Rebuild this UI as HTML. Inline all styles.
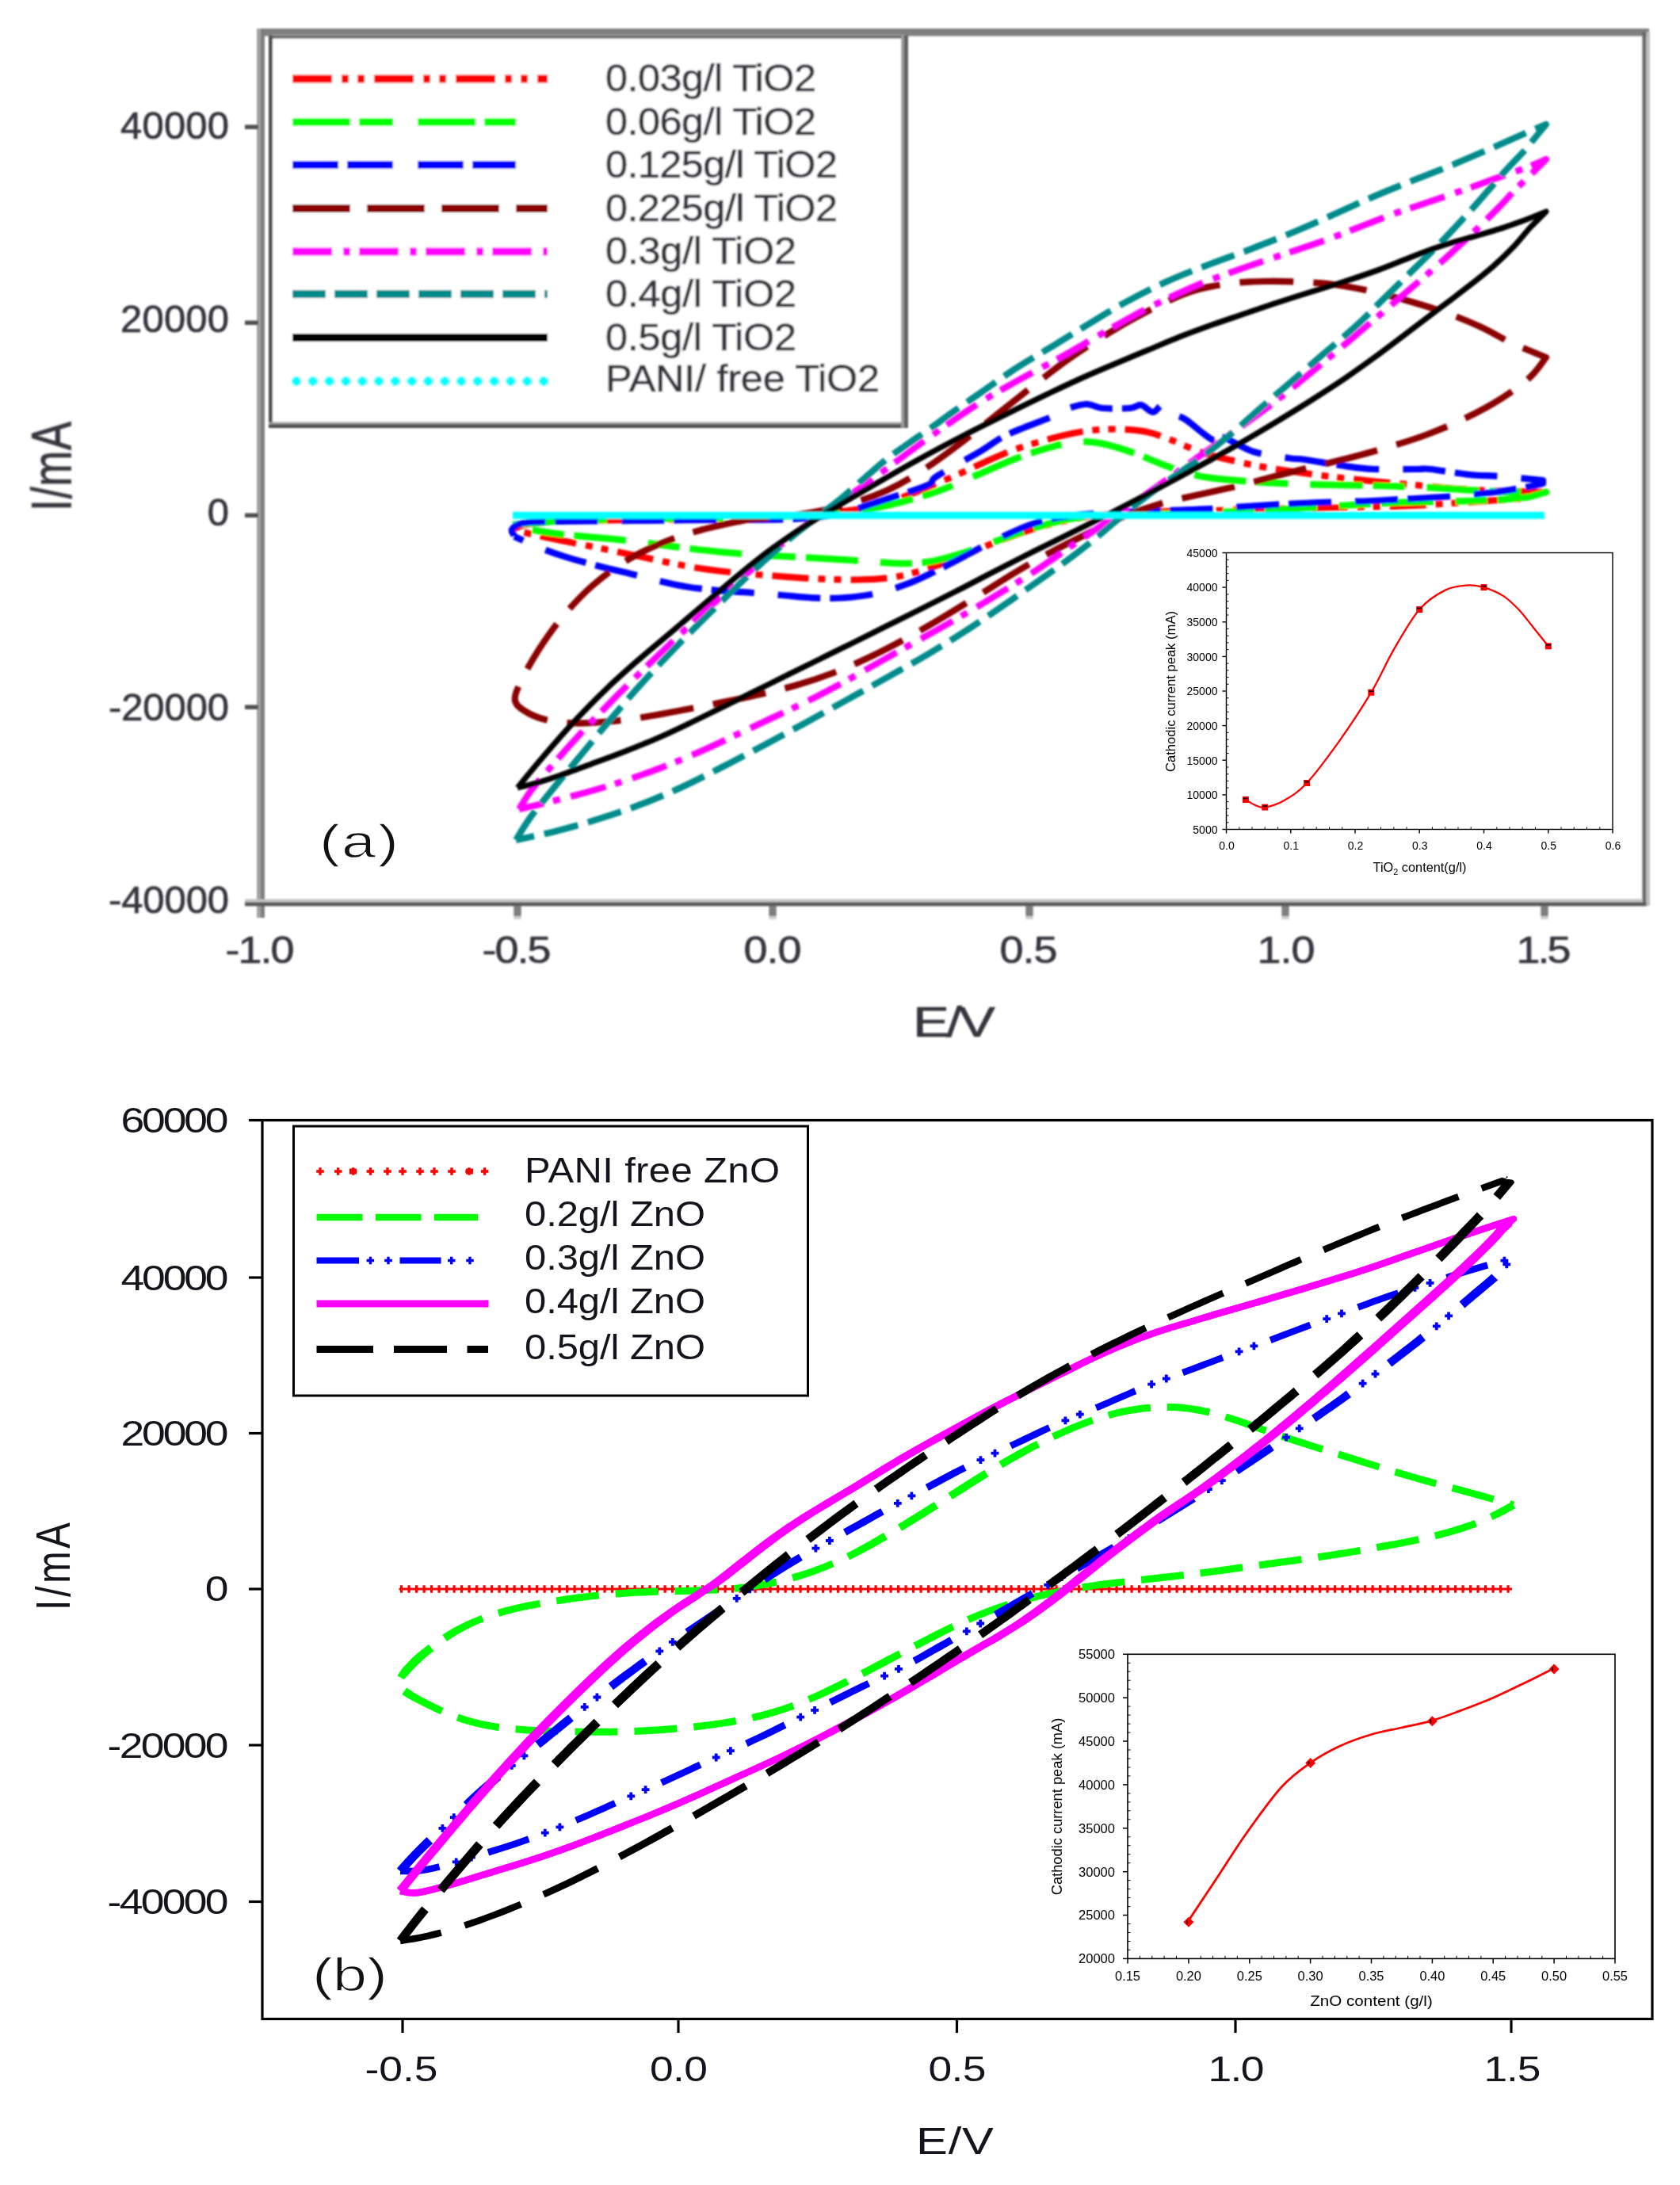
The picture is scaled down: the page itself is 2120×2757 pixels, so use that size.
<!DOCTYPE html>
<html lang="en"><head><meta charset="utf-8"><title>Cyclic voltammograms</title>
<style>html,body{margin:0;padding:0;background:#fff}svg{display:block}text{white-space:pre}</style></head>
<body>
<svg width="2120" height="2757" viewBox="0 0 2120 2757">
<defs><filter id="bl" x="-2%" y="-2%" width="104%" height="104%"><feGaussianBlur stdDeviation="1.05"/></filter></defs>
<rect width="2120" height="2757" fill="#fff"/>
<g id="chartA" filter="url(#bl)">
<rect x="324" y="36" width="1757" height="9.5" fill="#808080"/>
<rect x="324" y="36" width="5" height="1122" fill="#a2a2a2"/>
<rect x="329" y="36" width="5" height="1122" fill="#7e7e7e"/>
<rect x="2072.5" y="40" width="5" height="1103" fill="#666666"/>
<rect x="2077.5" y="40" width="4.5" height="1103" fill="#bdbdbd"/>
<rect x="309" y="1134.5" width="1764" height="4.5" fill="#c2c2c2"/>
<rect x="309" y="1138.5" width="1768.5" height="4.8" fill="#565656"/>
<rect x="309" y="157.5" width="17" height="5.5" fill="#505050"/>
<rect x="309" y="404.5" width="17" height="5.5" fill="#505050"/>
<rect x="309" y="647.5" width="17" height="5.5" fill="#505050"/>
<rect x="309" y="889.5" width="17" height="5.5" fill="#505050"/>
<rect x="648.3" y="1143" width="9.4" height="13" fill="#7e7e7e"/>
<rect x="648.3" y="1156" width="9.4" height="4" fill="#cfcfcf"/>
<rect x="970.3" y="1143" width="9.4" height="13" fill="#7e7e7e"/>
<rect x="970.3" y="1156" width="9.4" height="4" fill="#cfcfcf"/>
<rect x="1294.3" y="1143" width="9.4" height="13" fill="#7e7e7e"/>
<rect x="1294.3" y="1156" width="9.4" height="4" fill="#cfcfcf"/>
<rect x="1617.3" y="1143" width="9.4" height="13" fill="#7e7e7e"/>
<rect x="1617.3" y="1156" width="9.4" height="4" fill="#cfcfcf"/>
<rect x="1944.3" y="1143" width="9.4" height="13" fill="#7e7e7e"/>
<rect x="1944.3" y="1156" width="9.4" height="4" fill="#cfcfcf"/>
<text transform="translate(289,175) scale(1.020,1.000)" font-family="'Liberation Sans', sans-serif" font-size="48" fill="#34343c" text-anchor="end" textLength="134.3" lengthAdjust="spacing" stroke="#34343c" stroke-width="0.7">40000</text>
<text transform="translate(289,419) scale(1.020,1.000)" font-family="'Liberation Sans', sans-serif" font-size="48" fill="#34343c" text-anchor="end" textLength="134.3" lengthAdjust="spacing" stroke="#34343c" stroke-width="0.7">20000</text>
<text transform="translate(289,663) scale(1.020,1.000)" font-family="'Liberation Sans', sans-serif" font-size="48" fill="#34343c" text-anchor="end" textLength="26.5" lengthAdjust="spacing" stroke="#34343c" stroke-width="0.7">0</text>
<text transform="translate(289,908.5) scale(1.020,1.000)" font-family="'Liberation Sans', sans-serif" font-size="48" fill="#34343c" text-anchor="end" textLength="149" lengthAdjust="spacing" stroke="#34343c" stroke-width="0.7">-20000</text>
<text transform="translate(289,1151.5) scale(1.020,1.000)" font-family="'Liberation Sans', sans-serif" font-size="48" fill="#34343c" text-anchor="end" textLength="149" lengthAdjust="spacing" stroke="#34343c" stroke-width="0.7">-40000</text>
<text transform="translate(328,1214.5) scale(1.100,1.000)" font-family="'Liberation Sans', sans-serif" font-size="49" fill="#34343c" text-anchor="middle" textLength="79.1" lengthAdjust="spacing" stroke="#34343c" stroke-width="0.7">-1.0</text>
<text transform="translate(652,1214.5) scale(1.100,1.000)" font-family="'Liberation Sans', sans-serif" font-size="49" fill="#34343c" text-anchor="middle" textLength="79.1" lengthAdjust="spacing" stroke="#34343c" stroke-width="0.7">-0.5</text>
<text transform="translate(975,1214.5) scale(1.100,1.000)" font-family="'Liberation Sans', sans-serif" font-size="49" fill="#34343c" text-anchor="middle" textLength="66.4" lengthAdjust="spacing" stroke="#34343c" stroke-width="0.7">0.0</text>
<text transform="translate(1298,1214.5) scale(1.100,1.000)" font-family="'Liberation Sans', sans-serif" font-size="49" fill="#34343c" text-anchor="middle" textLength="66.4" lengthAdjust="spacing" stroke="#34343c" stroke-width="0.7">0.5</text>
<text transform="translate(1623,1214.5) scale(1.100,1.000)" font-family="'Liberation Sans', sans-serif" font-size="49" fill="#34343c" text-anchor="middle" textLength="66.4" lengthAdjust="spacing" stroke="#34343c" stroke-width="0.7">1.0</text>
<text transform="translate(1948,1214.5) scale(1.100,1.000)" font-family="'Liberation Sans', sans-serif" font-size="49" fill="#34343c" text-anchor="middle" textLength="62.7" lengthAdjust="spacing" stroke="#34343c" stroke-width="0.7">1.5</text>
<text transform="translate(1204,1307.5) scale(1.280,1.000)" font-family="'Liberation Sans', sans-serif" font-size="54" fill="#34343c" text-anchor="middle" textLength="81.2" lengthAdjust="spacing" stroke="#34343c" stroke-width="0.6">E/V</text>
<text transform="translate(89.5,588.5) rotate(-90) scale(1.000,1.300)" font-family="'Liberation Sans', sans-serif" font-size="54" fill="#34343c" text-anchor="middle" textLength="113" lengthAdjust="spacing" stroke="#34343c" stroke-width="0.6">I/mA</text>
<rect x="339" y="44" width="805" height="493" fill="#fff"/>
<rect x="339" y="44.5" width="805" height="4" fill="#606060"/>
<rect x="339" y="44.5" width="5" height="493" fill="#505050"/>
<rect x="339" y="532.5" width="807" height="3.5" fill="#a0a0a0"/>
<rect x="339" y="535.5" width="807" height="4.5" fill="#4c4c4c"/>
<rect x="1137" y="44.5" width="4.5" height="495" fill="#9a9a9a"/>
<rect x="1141" y="44.5" width="5" height="495" fill="#606060"/>
<line x1="369" y1="99.5" x2="691" y2="99.5" stroke="#ff0000" stroke-width="10" stroke-dasharray="50 12 9 11 9 12"/>
<line x1="369" y1="154" x2="651" y2="154" stroke="#00ff00" stroke-width="10" stroke-dasharray="73 11 43 31"/>
<line x1="369" y1="208" x2="651" y2="208" stroke="#0000ff" stroke-width="10" stroke-dasharray="58 11 58 31"/>
<line x1="369" y1="263" x2="691" y2="263" stroke="#8b0000" stroke-width="10" stroke-dasharray="73 21"/>
<line x1="369" y1="317.5" x2="691" y2="317.5" stroke="#ff00ff" stroke-width="10" stroke-dasharray="50 14 9 11"/>
<line x1="369" y1="371" x2="691" y2="371" stroke="#008b8b" stroke-width="10" stroke-dasharray="42 11"/>
<line x1="369" y1="426" x2="691" y2="426" stroke="#000000" stroke-width="10"/>
<path d="M368,481H380M374,475V487" stroke="#00ffff" stroke-width="6.5" fill="none"/>
<path d="M388.8,481H400.8M394.8,475V487" stroke="#00ffff" stroke-width="6.5" fill="none"/>
<path d="M409.6,481H421.6M415.6,475V487" stroke="#00ffff" stroke-width="6.5" fill="none"/>
<path d="M430.4,481H442.4M436.4,475V487" stroke="#00ffff" stroke-width="6.5" fill="none"/>
<path d="M451.2,481H463.2M457.2,475V487" stroke="#00ffff" stroke-width="6.5" fill="none"/>
<path d="M472,481H484M478,475V487" stroke="#00ffff" stroke-width="6.5" fill="none"/>
<path d="M492.8,481H504.8M498.8,475V487" stroke="#00ffff" stroke-width="6.5" fill="none"/>
<path d="M513.6,481H525.6M519.6,475V487" stroke="#00ffff" stroke-width="6.5" fill="none"/>
<path d="M534.4,481H546.4M540.4,475V487" stroke="#00ffff" stroke-width="6.5" fill="none"/>
<path d="M555.2,481H567.2M561.2,475V487" stroke="#00ffff" stroke-width="6.5" fill="none"/>
<path d="M576,481H588M582,475V487" stroke="#00ffff" stroke-width="6.5" fill="none"/>
<path d="M596.8,481H608.8M602.8,475V487" stroke="#00ffff" stroke-width="6.5" fill="none"/>
<path d="M617.6,481H629.6M623.6,475V487" stroke="#00ffff" stroke-width="6.5" fill="none"/>
<path d="M638.4,481H650.4M644.4,475V487" stroke="#00ffff" stroke-width="6.5" fill="none"/>
<path d="M659.2,481H671.2M665.2,475V487" stroke="#00ffff" stroke-width="6.5" fill="none"/>
<path d="M680,481H692M686,475V487" stroke="#00ffff" stroke-width="6.5" fill="none"/>
<text transform="translate(764,115) scale(1.040,1.000)" font-family="'Liberation Sans', sans-serif" font-size="48.5" fill="#34343c" textLength="255.8" lengthAdjust="spacing" stroke="#34343c" stroke-width="0.7">0.03g/l TiO2</text>
<text transform="translate(764,169.5) scale(1.040,1.000)" font-family="'Liberation Sans', sans-serif" font-size="48.5" fill="#34343c" textLength="255.8" lengthAdjust="spacing" stroke="#34343c" stroke-width="0.7">0.06g/l TiO2</text>
<text transform="translate(764,223.5) scale(1.040,1.000)" font-family="'Liberation Sans', sans-serif" font-size="48.5" fill="#34343c" textLength="281.7" lengthAdjust="spacing" stroke="#34343c" stroke-width="0.7">0.125g/l TiO2</text>
<text transform="translate(764,278.5) scale(1.040,1.000)" font-family="'Liberation Sans', sans-serif" font-size="48.5" fill="#34343c" textLength="281.7" lengthAdjust="spacing" stroke="#34343c" stroke-width="0.7">0.225g/l TiO2</text>
<text transform="translate(764,333) scale(1.040,1.000)" font-family="'Liberation Sans', sans-serif" font-size="48.5" fill="#34343c" textLength="231.7" lengthAdjust="spacing" stroke="#34343c" stroke-width="0.7">0.3g/l TiO2</text>
<text transform="translate(764,386.5) scale(1.040,1.000)" font-family="'Liberation Sans', sans-serif" font-size="48.5" fill="#34343c" textLength="231.7" lengthAdjust="spacing" stroke="#34343c" stroke-width="0.7">0.4g/l TiO2</text>
<text transform="translate(764,441.5) scale(1.040,1.000)" font-family="'Liberation Sans', sans-serif" font-size="48.5" fill="#34343c" textLength="231.7" lengthAdjust="spacing" stroke="#34343c" stroke-width="0.7">0.5g/l TiO2</text>
<text transform="translate(764,493.5) scale(1.040,1.000)" font-family="'Liberation Sans', sans-serif" font-size="48.5" fill="#34343c" textLength="332.7" lengthAdjust="spacing" stroke="#34343c" stroke-width="0.7">PANI/ free TiO2</text>
<path d="M647,668C650.3,666.9 655.4,663 666.8,661.2C678.1,659.5 692.8,658.4 715,657.5C737.2,656.6 769.2,656.5 800,656C830.8,655.5 868.8,655.2 900,654.5C931.2,653.8 963,652.8 987.5,651.5C1012,650.2 1030.8,648.3 1047,646.8C1063.2,645.2 1072.2,644.4 1084.5,642.2C1096.8,640.1 1107,638 1120.8,633.8C1134.5,629.5 1151.7,622.6 1167,616.5C1182.3,610.4 1198.8,603 1212.5,597C1226.2,591 1237.5,585.3 1249,580.2C1260.5,575.2 1270.5,570.8 1281.8,566.8C1293,562.7 1305.3,559.2 1316.8,556C1328.2,552.8 1339.6,549.8 1350.5,547.5C1361.4,545.2 1371.1,543.5 1382.2,542.5C1393.4,541.5 1406.3,541.2 1417.5,541.8C1428.7,542.2 1439.3,543.2 1449.5,545.5C1459.7,547.8 1468.5,551.6 1478.8,555.5C1489,559.4 1500.8,565.1 1511,568.8C1521.2,572.4 1531.5,575.2 1540,577.5C1548.5,579.8 1554.1,580.8 1562,582.5C1569.9,584.2 1576.2,586 1587.2,588C1598.2,590 1612.5,592.2 1628,594.5C1643.5,596.8 1662,599.3 1680,601.5C1698,603.7 1718.2,605.7 1736.2,607.5C1754.3,609.3 1771.9,610.8 1788.2,612.2C1804.6,613.8 1817.5,615.3 1834.2,616.5C1851,617.7 1869.5,618.8 1889,619.5C1908.5,620.2 1940.7,620.8 1951,621L1920,629C1908.3,629.8 1873.8,632.2 1850,633.8C1826.2,635.3 1803.3,637.1 1777.5,638.2C1751.7,639.4 1722.6,639.9 1695,640.5C1667.4,641.1 1638.2,641.4 1611.8,642C1585.2,642.6 1561.8,643.3 1536,644C1510.2,644.7 1482.3,644.9 1456.8,646C1431.2,647.1 1405.6,647.6 1382.5,650.5C1359.4,653.4 1337.9,658.2 1318.2,663.2C1298.6,668.3 1280.6,675.1 1264.5,681C1248.4,686.9 1236.7,692.6 1221.8,698.5C1206.8,704.4 1190.5,711.3 1175,716.2C1159.5,721.2 1144.3,725.5 1129,728C1113.7,730.5 1100.2,731.2 1083,731.5C1065.8,731.8 1045,730.9 1026,730C1007,729.1 987.2,727.4 969,726C950.8,724.6 934.2,723.5 917,721.5C899.8,719.5 883,717.2 866,714.2C849,711.3 832,707.3 814.8,703.8C797.5,700.2 779.2,696.2 762.5,692.8C745.8,689.3 729.2,686.2 714.8,683.2C700.3,680.3 687,677.8 675.8,675.2C664.5,672.7 651.8,669.2 647,668" fill="none" stroke="#ff0000" stroke-width="8.2" stroke-dasharray="46 12 9 11 9 12" stroke-linejoin="round"/>
<path d="M647,662C657.8,661.2 686.2,658.4 711.8,657.2C737.2,656.1 768.6,655.6 800,655C831.4,654.4 868.3,654.3 900,653.8C931.7,653.2 963.5,652.6 990,651.5C1016.5,650.4 1037.3,649.5 1058.8,647.2C1080.2,645 1098.4,642.4 1118.8,638C1139.1,633.6 1161.8,627.2 1180.8,620.8C1199.8,614.3 1216.2,606.4 1232.8,599.5C1249.3,592.6 1264.5,585.2 1280.2,579.2C1296,573.3 1314,567.4 1327.5,563.8C1341,560.1 1350.5,558.1 1361.2,557.5C1372,556.9 1380.3,557.6 1392,560C1403.7,562.4 1417.7,566.9 1431.5,571.8C1445.3,576.6 1461,584.2 1474.8,589C1488.5,593.8 1500.9,598 1514.2,600.8C1527.6,603.5 1540,604.3 1555,605.8C1570,607.2 1586,608.3 1604,609.2C1622,610.2 1641.6,610.9 1663.2,611.5C1684.9,612.1 1711.3,612.2 1734,612.8C1756.7,613.3 1780.6,614.1 1799.5,615C1818.4,615.9 1831.8,617.1 1847.2,618C1862.7,618.9 1875,619.8 1892.2,620.2C1909.5,620.8 1941.2,620.9 1951,621L1930,627C1923.6,627.6 1906.5,629.6 1891.5,630.5C1876.5,631.4 1858.7,632 1840.2,632.5C1821.8,633 1802.3,632.8 1781,633.5C1759.7,634.2 1739.6,635.2 1712.5,636.8C1685.4,638.3 1652.8,641 1618.5,642.8C1584.2,644.5 1540.8,646.3 1506.5,647.5C1472.2,648.7 1437.8,648.9 1412.5,650C1387.2,651.1 1371.7,651.7 1355,654C1338.3,656.3 1327.5,659.7 1312.5,664C1297.5,668.3 1280.8,674.5 1265,680C1249.2,685.5 1232.6,692.2 1217.5,697C1202.4,701.8 1188,706.2 1174.2,708.5C1160.5,710.8 1148.6,711.1 1134.8,711C1120.9,710.9 1107.7,709.1 1091,708C1074.3,706.9 1054.9,705.7 1034.8,704.5C1014.6,703.3 990.9,702.3 970,701C949.1,699.7 929,698.3 909.5,696.5C890,694.7 872,692.3 853,690C834,687.7 813.3,684.5 795.5,682.5C777.7,680.5 762.3,679.3 746.2,677.8C730.2,676.2 715.8,675.3 699.2,673C682.7,670.7 655.7,665.5 647,664" fill="none" stroke="#00ff00" stroke-width="8.5" stroke-dasharray="66 13 40 28" stroke-linejoin="round"/>
<path d="M649,676C648.5,674.7 644.2,670.7 646,668C647.8,665.3 651,661.7 660,660C669,658.3 676.7,658.5 700,658C723.3,657.5 766.7,657.3 800,657C833.3,656.7 866.7,656.3 900,656C933.3,655.7 973.3,656.3 1000,655C1026.7,653.7 1040.3,652.2 1060,648C1079.7,643.8 1099.5,636 1118,630C1136.5,624 1160.3,616.8 1171,612C1181.7,607.2 1170.8,608.2 1182,601C1193.2,593.8 1223.3,577.7 1238,569C1252.7,560.3 1255.2,556.2 1270,549C1284.8,541.8 1315.3,531.2 1327,526C1338.7,520.8 1332.8,520.7 1340,518C1347.2,515.3 1361.5,510.5 1370,510C1378.5,509.5 1381.7,514.2 1391,515C1400.3,515.8 1417.8,515.7 1426,515C1434.2,514.3 1435.2,510.2 1440,511C1444.8,511.8 1450.5,520 1455,520C1459.5,520 1462.8,510.7 1467,511C1471.2,511.3 1475,518.8 1480,522C1485,525.2 1488.7,524.5 1497,530C1505.3,535.5 1522.5,551.5 1530,555C1537.5,558.5 1533.3,548.5 1542,551C1550.7,553.5 1568,565.5 1582,570C1596,574.5 1615.2,576.3 1626,578C1636.8,579.7 1635.2,578.3 1647,580C1658.8,581.7 1682.5,586 1697,588C1711.5,590 1718.8,591.3 1734,592C1749.2,592.7 1776.2,592 1788,592C1799.8,592 1793.8,590.8 1805,592C1816.2,593.2 1840.5,597.5 1855,599C1869.5,600.5 1876.7,599.8 1892,601C1907.3,602.2 1937.8,605.2 1947,606L1947,610C1944,610.7 1938.6,612.5 1928.8,614.2C1918.9,616 1902.8,618.9 1888,620.8C1873.2,622.6 1856.8,624.1 1840,625.5C1823.2,626.9 1805.2,627.9 1787,629C1768.8,630.1 1748.8,631.2 1731,632C1713.2,632.8 1697.7,632.9 1680,633.5C1662.3,634.1 1642.8,634.8 1624.8,635.8C1606.7,636.7 1587.8,638.2 1571.5,639.2C1555.2,640.3 1541.6,641.2 1526.8,642C1511.9,642.8 1497.8,643.2 1482.5,643.8C1467.2,644.3 1451.7,644.5 1435,645.2C1418.3,646 1398.9,646.8 1382.5,648C1366.1,649.2 1350.5,650.4 1336.8,652.8C1323,655.1 1313,657.5 1300.2,662C1287.5,666.5 1274.2,672.8 1260.2,679.5C1246.3,686.2 1230.4,695 1216.8,702C1203.1,709 1190.4,715.9 1178.2,721.8C1166.1,727.6 1156.1,732.7 1143.8,737.2C1131.4,741.8 1118.1,746.4 1104.2,749.2C1090.4,752.1 1074.6,753.7 1060.8,754.5C1046.9,755.3 1033.6,754.6 1021.2,754C1008.9,753.4 998.8,752 986.8,751C974.8,750 962.7,749 949.2,748C935.8,747 919.9,746.3 906,745C892.1,743.7 878,742.2 865.8,740.2C853.5,738.3 844.2,736 832.5,733.2C820.8,730.5 809,727.3 795.5,724C782,720.7 765.4,716.9 751.5,713.2C737.6,709.6 723.7,705.9 712,702.2C700.3,698.6 692,695.5 681.5,691.2C671,687 654.4,679.4 649,677" fill="none" stroke="#0000ff" stroke-width="8.2" stroke-dasharray="54 12 54 30" stroke-linejoin="round"/>
<path d="M941,656C931.8,658.1 902.6,663.8 885.5,668.5C868.4,673.2 853.9,677.6 838.2,684C822.6,690.4 806.6,697.6 791.5,706.8C776.4,715.9 761.4,726.8 747.8,738.8C734.1,750.8 720.8,765.3 709.5,778.8C698.2,792.2 688.7,806.2 680.2,819.2C671.8,832.3 663.8,846.5 658.8,857C653.7,867.5 649.3,875.9 649.8,882.5C650.2,889.1 655,892.3 661.2,896.5C667.5,900.7 676.6,905.1 687.2,907.8C697.9,910.4 711.3,912.1 725.2,912.5C739.2,912.9 755.4,911.7 770.8,910.2C786.1,908.8 801.7,906.5 817.5,904C833.3,901.5 849.6,898.3 865.5,895.2C881.4,892.2 897.3,889 913,885.8C928.7,882.5 944,879.6 959.5,876C975,872.4 990.4,868.8 1006,864.2C1021.6,859.7 1037.4,854.5 1053,848.5C1068.6,842.5 1084.2,835.4 1099.8,828C1115.3,820.6 1130.7,812.5 1146.2,804C1161.8,795.5 1177.4,786.3 1193,777C1208.6,767.7 1225.4,757.1 1240,748C1254.6,738.9 1267.2,730.6 1280.8,722.5C1294.3,714.4 1306.6,707.2 1321.5,699.2C1336.4,691.2 1353.9,682.4 1370,674.5C1386.1,666.6 1401.8,658.5 1418.2,651.8C1434.8,645 1452,639.1 1469,634.2C1486,629.4 1503.9,626.2 1520.5,622.5C1537.1,618.8 1552.7,615.6 1568.5,611.8C1584.3,607.9 1600,603.2 1615.5,599.2C1631,595.2 1646,591.5 1661.2,587.8C1676.5,584 1691.4,580.8 1706.8,576.8C1722.1,572.8 1737.7,568.5 1753.5,563.8C1769.3,559 1785.7,554 1801.5,548C1817.3,542 1832.8,535.6 1848.5,528C1864.2,520.4 1881.8,511 1895.5,502.2C1909.2,493.5 1921.8,484.3 1931,475.8C1940.2,467.2 1947.7,455.1 1951,451L1905,432C1898.9,428.8 1882.1,418.8 1868.5,412.5C1854.9,406.2 1839,399.8 1823.5,394.2C1808,388.7 1791.7,383.8 1775.5,379.2C1759.3,374.7 1742.5,370.2 1726.5,366.8C1710.5,363.3 1695.1,360.4 1679.8,358.5C1664.4,356.6 1648.2,356.1 1634.2,355.5C1620.2,354.9 1607.6,354.8 1595.8,355C1583.9,355.2 1574,355.5 1563.2,356.5C1552.5,357.5 1541,359.1 1531,361C1521,362.9 1513.5,364.2 1503,367.8C1492.5,371.3 1483.6,374.9 1468.2,382.5C1452.9,390.1 1430.2,402 1411,413.2C1391.8,424.5 1370.2,438 1352.8,450C1335.2,462 1321.8,473 1306,485.2C1290.2,497.5 1273.8,510.6 1257.8,523.2C1241.7,535.9 1225.3,549.4 1209.5,561.2C1193.7,573.1 1178.1,584.6 1163,594.2C1147.9,603.9 1135,611.8 1118.8,619C1102.5,626.2 1085,632.5 1065.5,637.8C1046,643 1022.8,647.2 1002,650.2C981.2,653.3 951.2,655 941,656" fill="none" stroke="#8b0000" stroke-width="8.2" stroke-dasharray="68 25" stroke-linejoin="round"/>
<path d="M655,1021C657.6,1017 663.5,1006.2 670.5,997C677.5,987.8 687,977 696.8,965.8C706.5,954.5 717.6,941.9 728.8,929.8C739.9,917.6 750.3,906.5 763.8,892.8C777.2,879 790.2,865.9 809.5,847.2C828.8,828.6 854.2,804 879.2,781C904.2,758 936.3,728.9 959.5,709C982.7,689.1 1001.8,674.1 1018.5,661.5C1035.2,648.9 1046,643.2 1060,633.5C1074,623.8 1087.5,614.4 1102.5,603.5C1117.5,592.6 1134.2,579.8 1150,568.2C1165.8,556.7 1182.5,544.7 1197.5,534.2C1212.5,523.8 1225.3,514.9 1240,505.8C1254.7,496.6 1269.2,488.6 1285.5,479.5C1301.8,470.4 1321.1,460.7 1338,451.2C1354.9,441.8 1371.5,431.9 1387,423C1402.5,414.1 1416.5,405.8 1431,398C1445.5,390.2 1460,383 1473.8,376.5C1487.5,370 1500,364.2 1513.2,358.8C1526.5,353.3 1539.2,348.7 1553,343.8C1566.8,338.8 1581.5,333.8 1595.8,329C1610,324.2 1624.2,319.5 1638.2,314.8C1652.3,310 1666.1,305.4 1680,300.2C1693.9,295.1 1707.9,289.3 1721.8,284C1735.6,278.7 1749.4,273.2 1763.2,268.2C1777.1,263.3 1791.1,259 1805,254.2C1818.9,249.5 1833,244.6 1846.8,239.8C1860.5,234.9 1874.6,229.8 1887.2,225.2C1899.9,220.8 1912.1,216.8 1922.8,212.8C1933.4,208.7 1946.3,203 1951,201L1930,222C1926.9,225 1917.8,233.5 1911.2,240.2C1904.7,247 1899.2,253.7 1890.5,262.5C1881.8,271.3 1870.9,282.2 1859.2,293.2C1847.6,304.3 1834,316.9 1820.8,328.8C1807.5,340.6 1793.8,352.4 1780,364.2C1766.2,376.1 1752,388.1 1738.2,399.8C1724.5,411.4 1711.1,422.8 1697.8,434C1684.4,445.2 1671.2,456.3 1658,467.2C1644.8,478.2 1630.8,489.7 1618.2,499.5C1605.8,509.3 1594.9,517.5 1583,526.2C1571.1,535 1560.1,542.5 1546.8,552C1533.4,561.5 1518,572.3 1503,583C1488,593.7 1472.3,605.3 1457,616.2C1441.7,627.2 1425.1,639.1 1411.2,648.8C1397.4,658.4 1385.1,666.5 1374,674C1362.9,681.5 1354.9,687 1344.8,694C1334.6,701 1323.2,709 1313.2,715.8C1303.2,722.5 1293.8,728.5 1284.8,734.2C1275.7,740 1269.1,743.9 1259,750C1248.9,756.1 1236.8,763.5 1224,771C1211.2,778.5 1196.1,787.2 1182.2,795C1168.4,802.8 1154.6,810.2 1140.8,818C1126.9,825.8 1112.9,833.7 1099,841.5C1085.1,849.3 1071,857.4 1057.2,864.8C1043.5,872.1 1030.1,879.1 1016.8,885.8C1003.4,892.4 990.6,898.2 977.2,904.5C963.9,910.8 950.5,917 936.8,923.5C923,930 908.9,937 895,943.2C881.1,949.5 867.1,955.6 853.2,961.2C839.4,966.9 825.8,972 811.8,977C797.7,982 783.1,986.9 769,991.2C754.9,995.6 740.2,999.7 727,1003.2C713.8,1006.8 701.8,1009.8 689.8,1012.8C677.8,1015.7 660.8,1019.6 655,1021" fill="none" stroke="#ff00ff" stroke-width="8.2" stroke-dasharray="46 14 9 12" stroke-linejoin="round"/>
<path d="M651,1060C653.9,1055.4 661.2,1042.7 668.5,1032.5C675.8,1022.3 684.5,1011.7 695,998.8C705.5,985.8 718.6,970.3 731.2,955C743.9,939.7 757.4,923 771,907C784.6,891 798.2,875 812.8,859C827.3,843 842.9,826.8 858.2,811C873.6,795.2 889.7,779.3 905,764.2C920.3,749.2 935.2,734.5 950,720.8C964.8,707 980.5,693.1 994,681.8C1007.5,670.4 1019.8,661.3 1030.8,652.8C1041.7,644.2 1049.7,638.5 1059.8,630.2C1069.8,622 1081,611.8 1091.2,603C1101.5,594.2 1111.9,584.9 1121.2,577.5C1130.6,570.1 1138.9,564.8 1147.5,558.8C1156.1,552.7 1164.6,547.2 1173,541.2C1181.4,535.3 1189.3,529.3 1197.8,523.2C1206.2,517.2 1215,511.1 1223.8,505C1232.5,498.9 1241.4,492.7 1250.2,486.5C1259.1,480.3 1268,473.9 1277,468C1286,462.1 1294.5,457 1304,451.2C1313.5,445.5 1323,440.1 1334.2,433.2C1345.5,426.4 1357.5,418.7 1371.5,410.2C1385.5,401.8 1401.5,391.6 1418.2,382.5C1435,373.4 1454,363.6 1471.8,355.5C1489.5,347.4 1507.5,340.8 1525,334C1542.5,327.2 1559.7,321.4 1577,314.8C1594.3,308.1 1611.8,301.4 1629,294.2C1646.2,287.1 1663.2,279.5 1680,272C1696.8,264.5 1713.2,256.8 1730,249.5C1746.8,242.2 1763.8,235.4 1781,228.5C1798.2,221.6 1815.8,215.1 1833,208C1850.2,200.9 1868.9,192.8 1884.5,186C1900.1,179.2 1915.7,172.1 1926.8,167.2C1937.8,162.4 1947,158.7 1951,157L1922,192C1918.5,195.7 1908,206.3 1901,214C1894,221.7 1887,230 1880,238C1873,246 1866.2,254 1859,262C1851.8,270 1845.3,277.1 1837,286C1828.7,294.9 1819.5,304.6 1809,315.2C1798.5,325.9 1784.8,338.9 1773.8,349.8C1762.7,360.6 1751.7,371.4 1742.5,380.5C1733.3,389.6 1726.7,396.8 1718.5,404.5C1710.3,412.2 1701.6,419.7 1693.2,427C1684.9,434.3 1676.4,441.3 1668.2,448.2C1660.1,455.2 1653,461.5 1644.5,468.8C1636,476 1626.8,483.8 1617.2,492C1607.7,500.2 1597.6,509 1587,518.2C1576.4,527.5 1565,537.8 1553.8,547.2C1542.5,556.7 1530.7,566.2 1519.2,574.8C1507.8,583.3 1496.6,590.5 1485,598.8C1473.4,607 1460.9,615.6 1449.8,624C1438.6,632.4 1428,641 1418.2,649C1408.5,657 1400.7,664 1391,672C1381.3,680 1371.5,688.2 1360,697C1348.5,705.8 1335.7,715 1321.8,725C1307.8,735 1292.7,745.5 1276.5,756.8C1260.3,768 1242.1,780.8 1224.5,792.2C1206.9,803.7 1188.6,815 1171,825.5C1153.4,836 1136.3,845.2 1119,855C1101.7,864.8 1084.3,874.4 1067,884C1049.7,893.6 1032.3,903.3 1015,912.8C997.7,922.2 980.2,931.6 963,940.8C945.8,949.9 929,958.8 912,967.5C895,976.2 878,985 860.8,993C843.5,1001 825.7,1008.5 808.2,1015.2C790.8,1022 773.5,1027.8 756,1033.2C738.5,1038.8 721,1043.8 703.5,1048.2C686,1052.7 659.8,1058 651,1060" fill="none" stroke="#008b8b" stroke-width="8.2" stroke-dasharray="44 13" stroke-linejoin="round"/>
<path d="M653,994C658.6,987.2 674.9,967.1 686.9,953.2C698.8,939.2 711.6,924.4 724.8,910.3C737.9,896.2 751.9,881.9 765.7,868.8C779.4,855.6 793.4,843.4 807.3,831.2C821.2,819.1 835.1,807.8 849,796C862.9,784.2 876.8,772.4 890.7,760.6C904.6,748.8 918.6,736.5 932.3,725.2C946,714 959.7,703 972.9,693.2C986.2,683.4 998.4,675.1 1011.9,666.2C1025.5,657.4 1038.7,649.6 1054.2,640.3C1069.7,631 1087.1,620.8 1104.8,610.6C1122.4,600.5 1141.6,589.4 1159.9,579.4C1178.1,569.3 1196.3,559.7 1214.3,550.4C1232.3,541 1250.4,532.1 1268,523.4C1285.6,514.6 1303.7,505.8 1320.2,497.9C1336.7,490.1 1352.4,482.7 1367.1,476.1C1381.7,469.6 1394.6,464.2 1408,458.6C1421.4,452.9 1434.1,447.7 1447.4,442.1C1460.8,436.6 1474.6,430.7 1488.3,425.2C1502.1,419.8 1516.1,414.7 1530,409.7C1543.9,404.7 1557.8,400.2 1571.7,395.4C1585.6,390.7 1599.4,385.9 1613.3,381.4C1627.2,376.8 1641.1,372.4 1655,368.1C1668.9,363.7 1683,359.7 1696.7,355.2C1710.4,350.8 1724.2,346.1 1737,341.5C1749.8,336.9 1761.9,331.8 1773.2,327.4C1784.5,323 1794.7,318.7 1804.9,315.1C1815.2,311.4 1824.9,308.4 1834.8,305.4C1844.6,302.4 1854.2,300 1863.8,297.2C1873.4,294.4 1882.9,291.8 1892.6,288.8C1902.2,285.7 1911.9,282.3 1921.7,278.7C1931.4,275.1 1946.1,268.9 1951,267L1930,288C1926.6,291.9 1917.4,303.6 1909.8,311.6C1902.1,319.7 1893.4,328 1884,336.2C1874.6,344.5 1864.1,352.7 1853.2,361.2C1842.2,369.8 1830.7,378.4 1818.4,387.7C1806.1,397 1792.8,407.1 1779.5,417.2C1766.2,427.3 1752.1,438.1 1738.3,448.2C1724.5,458.3 1710.6,468.3 1696.7,477.8C1682.8,487.2 1668.9,496.1 1655,504.9C1641.1,513.8 1627.2,522.2 1613.3,530.6C1599.4,539 1585.6,547.3 1571.7,555.4C1557.8,563.4 1543.9,571.3 1530,579C1516.1,586.7 1502.2,594.2 1488.3,601.8C1474.4,609.3 1460.6,616.7 1446.7,624.1C1432.8,631.4 1418.8,638.7 1405,645.8C1391.2,652.8 1377.3,659.7 1363.8,666.4C1350.2,673.2 1337,679.5 1323.9,686.1C1310.7,692.6 1298,698.9 1284.8,705.6C1271.5,712.3 1258.2,719.2 1244.6,726.2C1231.1,733.3 1217.1,740.6 1203.3,747.6C1189.5,754.7 1175.6,761.6 1161.7,768.6C1147.8,775.5 1133.9,782.4 1120,789.3C1106.1,796.2 1092.2,803.2 1078.3,810.1C1064.4,816.9 1050.6,823.7 1036.7,830.6C1022.8,837.4 1008.9,844.2 995,851.1C981.1,858 967.2,864.9 953.3,871.8C939.4,878.7 925.6,885.5 911.7,892.3C897.8,899.1 883.9,906.1 870,912.7C856.1,919.3 842.2,926 828.3,932C814.4,938 800.5,943.6 786.7,948.9C772.9,954.3 758.7,959.4 745.5,964.3C732.3,969.2 718.9,974.2 707.4,978.1C695.9,982.1 685.6,985.4 676.6,988C667.5,990.6 656.9,993 653,994" fill="none" stroke="#000000" stroke-width="7.2" stroke-linejoin="round"/>
<rect x="647" y="645.8" width="1302" height="9" fill="#00ffff"/>
</g>
<text transform="translate(453,1082) scale(1.320,1.000)" font-family="'Liberation Mono', monospace" font-size="60" fill="#111" text-anchor="middle" textLength="88.6" lengthAdjust="spacing" stroke="#fff" stroke-width="1.3">(a)</text>
<g id="insetA" font-family="'Liberation Sans', sans-serif">
<rect x="1547.5" y="697.5" width="487.5" height="349" fill="#fff" stroke="#000" stroke-width="1.4"/>
<line x1="1542.5" y1="1046.5" x2="1547.5" y2="1046.5" stroke="#000" stroke-width="1.4"/>
<text transform="translate(1536.5,1051.7)" font-family="'Liberation Sans', sans-serif" font-size="14.6" fill="#000" text-anchor="end" textLength="31.2" lengthAdjust="spacingAndGlyphs">5000</text>
<line x1="1547.5" y1="1037.8" x2="1550.5" y2="1037.8" stroke="#000" stroke-width="1"/>
<line x1="1547.5" y1="1029" x2="1550.5" y2="1029" stroke="#000" stroke-width="1"/>
<line x1="1547.5" y1="1020.3" x2="1550.5" y2="1020.3" stroke="#000" stroke-width="1"/>
<line x1="1547.5" y1="1011.6" x2="1550.5" y2="1011.6" stroke="#000" stroke-width="1"/>
<line x1="1542.5" y1="1002.9" x2="1547.5" y2="1002.9" stroke="#000" stroke-width="1.4"/>
<text transform="translate(1536.5,1008.1)" font-family="'Liberation Sans', sans-serif" font-size="14.6" fill="#000" text-anchor="end" textLength="39" lengthAdjust="spacingAndGlyphs">10000</text>
<line x1="1547.5" y1="994.1" x2="1550.5" y2="994.1" stroke="#000" stroke-width="1"/>
<line x1="1547.5" y1="985.4" x2="1550.5" y2="985.4" stroke="#000" stroke-width="1"/>
<line x1="1547.5" y1="976.7" x2="1550.5" y2="976.7" stroke="#000" stroke-width="1"/>
<line x1="1547.5" y1="968" x2="1550.5" y2="968" stroke="#000" stroke-width="1"/>
<line x1="1542.5" y1="959.2" x2="1547.5" y2="959.2" stroke="#000" stroke-width="1.4"/>
<text transform="translate(1536.5,964.5)" font-family="'Liberation Sans', sans-serif" font-size="14.6" fill="#000" text-anchor="end" textLength="39" lengthAdjust="spacingAndGlyphs">15000</text>
<line x1="1547.5" y1="950.5" x2="1550.5" y2="950.5" stroke="#000" stroke-width="1"/>
<line x1="1547.5" y1="941.8" x2="1550.5" y2="941.8" stroke="#000" stroke-width="1"/>
<line x1="1547.5" y1="933.1" x2="1550.5" y2="933.1" stroke="#000" stroke-width="1"/>
<line x1="1547.5" y1="924.4" x2="1550.5" y2="924.4" stroke="#000" stroke-width="1"/>
<line x1="1542.5" y1="915.6" x2="1547.5" y2="915.6" stroke="#000" stroke-width="1.4"/>
<text transform="translate(1536.5,920.8)" font-family="'Liberation Sans', sans-serif" font-size="14.6" fill="#000" text-anchor="end" textLength="39" lengthAdjust="spacingAndGlyphs">20000</text>
<line x1="1547.5" y1="906.9" x2="1550.5" y2="906.9" stroke="#000" stroke-width="1"/>
<line x1="1547.5" y1="898.2" x2="1550.5" y2="898.2" stroke="#000" stroke-width="1"/>
<line x1="1547.5" y1="889.5" x2="1550.5" y2="889.5" stroke="#000" stroke-width="1"/>
<line x1="1547.5" y1="880.7" x2="1550.5" y2="880.7" stroke="#000" stroke-width="1"/>
<line x1="1542.5" y1="872" x2="1547.5" y2="872" stroke="#000" stroke-width="1.4"/>
<text transform="translate(1536.5,877.2)" font-family="'Liberation Sans', sans-serif" font-size="14.6" fill="#000" text-anchor="end" textLength="39" lengthAdjust="spacingAndGlyphs">25000</text>
<line x1="1547.5" y1="863.3" x2="1550.5" y2="863.3" stroke="#000" stroke-width="1"/>
<line x1="1547.5" y1="854.5" x2="1550.5" y2="854.5" stroke="#000" stroke-width="1"/>
<line x1="1547.5" y1="845.8" x2="1550.5" y2="845.8" stroke="#000" stroke-width="1"/>
<line x1="1547.5" y1="837.1" x2="1550.5" y2="837.1" stroke="#000" stroke-width="1"/>
<line x1="1542.5" y1="828.4" x2="1547.5" y2="828.4" stroke="#000" stroke-width="1.4"/>
<text transform="translate(1536.5,833.6)" font-family="'Liberation Sans', sans-serif" font-size="14.6" fill="#000" text-anchor="end" textLength="39" lengthAdjust="spacingAndGlyphs">30000</text>
<line x1="1547.5" y1="819.6" x2="1550.5" y2="819.6" stroke="#000" stroke-width="1"/>
<line x1="1547.5" y1="810.9" x2="1550.5" y2="810.9" stroke="#000" stroke-width="1"/>
<line x1="1547.5" y1="802.2" x2="1550.5" y2="802.2" stroke="#000" stroke-width="1"/>
<line x1="1547.5" y1="793.5" x2="1550.5" y2="793.5" stroke="#000" stroke-width="1"/>
<line x1="1542.5" y1="784.8" x2="1547.5" y2="784.8" stroke="#000" stroke-width="1.4"/>
<text transform="translate(1536.5,790)" font-family="'Liberation Sans', sans-serif" font-size="14.6" fill="#000" text-anchor="end" textLength="39" lengthAdjust="spacingAndGlyphs">35000</text>
<line x1="1547.5" y1="776" x2="1550.5" y2="776" stroke="#000" stroke-width="1"/>
<line x1="1547.5" y1="767.3" x2="1550.5" y2="767.3" stroke="#000" stroke-width="1"/>
<line x1="1547.5" y1="758.6" x2="1550.5" y2="758.6" stroke="#000" stroke-width="1"/>
<line x1="1547.5" y1="749.9" x2="1550.5" y2="749.9" stroke="#000" stroke-width="1"/>
<line x1="1542.5" y1="741.1" x2="1547.5" y2="741.1" stroke="#000" stroke-width="1.4"/>
<text transform="translate(1536.5,746.3)" font-family="'Liberation Sans', sans-serif" font-size="14.6" fill="#000" text-anchor="end" textLength="39" lengthAdjust="spacingAndGlyphs">40000</text>
<line x1="1547.5" y1="732.4" x2="1550.5" y2="732.4" stroke="#000" stroke-width="1"/>
<line x1="1547.5" y1="723.7" x2="1550.5" y2="723.7" stroke="#000" stroke-width="1"/>
<line x1="1547.5" y1="715" x2="1550.5" y2="715" stroke="#000" stroke-width="1"/>
<line x1="1547.5" y1="706.2" x2="1550.5" y2="706.2" stroke="#000" stroke-width="1"/>
<line x1="1542.5" y1="697.5" x2="1547.5" y2="697.5" stroke="#000" stroke-width="1.4"/>
<text transform="translate(1536.5,702.7)" font-family="'Liberation Sans', sans-serif" font-size="14.6" fill="#000" text-anchor="end" textLength="39" lengthAdjust="spacingAndGlyphs">45000</text>
<line x1="1547.5" y1="1046.5" x2="1547.5" y2="1051.5" stroke="#000" stroke-width="1.4"/>
<text transform="translate(1548,1071.5)" font-family="'Liberation Sans', sans-serif" font-size="14.6" fill="#000" text-anchor="middle" textLength="19.5" lengthAdjust="spacingAndGlyphs">0.0</text>
<line x1="1563.8" y1="1046.5" x2="1563.8" y2="1043.5" stroke="#000" stroke-width="1"/>
<line x1="1580" y1="1046.5" x2="1580" y2="1043.5" stroke="#000" stroke-width="1"/>
<line x1="1596.2" y1="1046.5" x2="1596.2" y2="1043.5" stroke="#000" stroke-width="1"/>
<line x1="1612.5" y1="1046.5" x2="1612.5" y2="1043.5" stroke="#000" stroke-width="1"/>
<line x1="1628.8" y1="1046.5" x2="1628.8" y2="1051.5" stroke="#000" stroke-width="1.4"/>
<text transform="translate(1629.2,1071.5)" font-family="'Liberation Sans', sans-serif" font-size="14.6" fill="#000" text-anchor="middle" textLength="19.5" lengthAdjust="spacingAndGlyphs">0.1</text>
<line x1="1645" y1="1046.5" x2="1645" y2="1043.5" stroke="#000" stroke-width="1"/>
<line x1="1661.2" y1="1046.5" x2="1661.2" y2="1043.5" stroke="#000" stroke-width="1"/>
<line x1="1677.5" y1="1046.5" x2="1677.5" y2="1043.5" stroke="#000" stroke-width="1"/>
<line x1="1693.8" y1="1046.5" x2="1693.8" y2="1043.5" stroke="#000" stroke-width="1"/>
<line x1="1710" y1="1046.5" x2="1710" y2="1051.5" stroke="#000" stroke-width="1.4"/>
<text transform="translate(1710.5,1071.5)" font-family="'Liberation Sans', sans-serif" font-size="14.6" fill="#000" text-anchor="middle" textLength="19.5" lengthAdjust="spacingAndGlyphs">0.2</text>
<line x1="1726.2" y1="1046.5" x2="1726.2" y2="1043.5" stroke="#000" stroke-width="1"/>
<line x1="1742.5" y1="1046.5" x2="1742.5" y2="1043.5" stroke="#000" stroke-width="1"/>
<line x1="1758.8" y1="1046.5" x2="1758.8" y2="1043.5" stroke="#000" stroke-width="1"/>
<line x1="1775" y1="1046.5" x2="1775" y2="1043.5" stroke="#000" stroke-width="1"/>
<line x1="1791.2" y1="1046.5" x2="1791.2" y2="1051.5" stroke="#000" stroke-width="1.4"/>
<text transform="translate(1791.8,1071.5)" font-family="'Liberation Sans', sans-serif" font-size="14.6" fill="#000" text-anchor="middle" textLength="19.5" lengthAdjust="spacingAndGlyphs">0.3</text>
<line x1="1807.5" y1="1046.5" x2="1807.5" y2="1043.5" stroke="#000" stroke-width="1"/>
<line x1="1823.8" y1="1046.5" x2="1823.8" y2="1043.5" stroke="#000" stroke-width="1"/>
<line x1="1840" y1="1046.5" x2="1840" y2="1043.5" stroke="#000" stroke-width="1"/>
<line x1="1856.2" y1="1046.5" x2="1856.2" y2="1043.5" stroke="#000" stroke-width="1"/>
<line x1="1872.5" y1="1046.5" x2="1872.5" y2="1051.5" stroke="#000" stroke-width="1.4"/>
<text transform="translate(1873,1071.5)" font-family="'Liberation Sans', sans-serif" font-size="14.6" fill="#000" text-anchor="middle" textLength="19.5" lengthAdjust="spacingAndGlyphs">0.4</text>
<line x1="1888.8" y1="1046.5" x2="1888.8" y2="1043.5" stroke="#000" stroke-width="1"/>
<line x1="1905" y1="1046.5" x2="1905" y2="1043.5" stroke="#000" stroke-width="1"/>
<line x1="1921.2" y1="1046.5" x2="1921.2" y2="1043.5" stroke="#000" stroke-width="1"/>
<line x1="1937.5" y1="1046.5" x2="1937.5" y2="1043.5" stroke="#000" stroke-width="1"/>
<line x1="1953.8" y1="1046.5" x2="1953.8" y2="1051.5" stroke="#000" stroke-width="1.4"/>
<text transform="translate(1954.2,1071.5)" font-family="'Liberation Sans', sans-serif" font-size="14.6" fill="#000" text-anchor="middle" textLength="19.5" lengthAdjust="spacingAndGlyphs">0.5</text>
<line x1="1970" y1="1046.5" x2="1970" y2="1043.5" stroke="#000" stroke-width="1"/>
<line x1="1986.2" y1="1046.5" x2="1986.2" y2="1043.5" stroke="#000" stroke-width="1"/>
<line x1="2002.5" y1="1046.5" x2="2002.5" y2="1043.5" stroke="#000" stroke-width="1"/>
<line x1="2018.8" y1="1046.5" x2="2018.8" y2="1043.5" stroke="#000" stroke-width="1"/>
<line x1="2035" y1="1046.5" x2="2035" y2="1051.5" stroke="#000" stroke-width="1.4"/>
<text transform="translate(2035.5,1071.5)" font-family="'Liberation Sans', sans-serif" font-size="14.6" fill="#000" text-anchor="middle" textLength="19.5" lengthAdjust="spacingAndGlyphs">0.6</text>
<text transform="translate(1791.5,1100)" font-size="15.8" text-anchor="middle" textLength="118" lengthAdjust="spacingAndGlyphs">TiO<tspan font-size="10.5" dy="3.6">2</tspan><tspan dy="-3.6"> content(g/l)</tspan></text>
<text transform="translate(1483,872.5) rotate(-90)" font-family="'Liberation Sans', sans-serif" font-size="15.8" fill="#000" text-anchor="middle" textLength="203" lengthAdjust="spacingAndGlyphs">Cathodic current peak (mA)</text>
<path d="M1571.9,1009C1573.9,1010.1 1580,1014.4 1584.1,1016C1588.1,1017.6 1590.2,1019.6 1596.2,1018.6C1602.3,1017.6 1611.8,1014.9 1620.6,1009.9C1629.4,1004.8 1637.6,1000.4 1649.1,988C1660.6,975.7 1676.1,954.7 1689.7,935.7C1703.2,916.6 1718.8,893.1 1730.3,873.7C1741.8,854.4 1748.6,837.1 1758.8,819.6C1768.9,802.2 1780.4,781.6 1791.2,769C1802.1,756.5 1813.6,749.7 1823.8,744.6C1833.9,739.5 1844.1,739.1 1852.2,738.5C1860.3,737.9 1865.1,738.9 1872.5,741.1C1879.9,743.4 1889.6,747.2 1896.9,751.9C1904.2,756.6 1910,762.4 1916.4,769C1922.7,775.7 1928.8,784.2 1935.1,791.9C1941.3,799.6 1950.6,811.4 1953.8,815.3" fill="none" stroke="#ff0000" stroke-width="2.3" stroke-linejoin="round"/>
<rect x="1567.9" y="1005" width="8" height="8" fill="#ff0000"/>
<line x1="1568.9" y1="1007.5" x2="1574.9" y2="1007.5" stroke="#000" stroke-width="1.6"/>
<rect x="1592.2" y="1014.6" width="8" height="8" fill="#ff0000"/>
<line x1="1593.2" y1="1017.1" x2="1599.2" y2="1017.1" stroke="#000" stroke-width="1.6"/>
<rect x="1645.1" y="984" width="8" height="8" fill="#ff0000"/>
<line x1="1646.1" y1="986.5" x2="1652.1" y2="986.5" stroke="#000" stroke-width="1.6"/>
<rect x="1726.3" y="869.7" width="8" height="8" fill="#ff0000"/>
<line x1="1727.3" y1="872.2" x2="1733.3" y2="872.2" stroke="#000" stroke-width="1.6"/>
<rect x="1787.2" y="765" width="8" height="8" fill="#ff0000"/>
<line x1="1788.2" y1="767.5" x2="1794.2" y2="767.5" stroke="#000" stroke-width="1.6"/>
<rect x="1868.5" y="737.1" width="8" height="8" fill="#ff0000"/>
<line x1="1869.5" y1="739.6" x2="1875.5" y2="739.6" stroke="#000" stroke-width="1.6"/>
<rect x="1949.8" y="811.3" width="8" height="8" fill="#ff0000"/>
<line x1="1950.8" y1="813.8" x2="1956.8" y2="813.8" stroke="#000" stroke-width="1.6"/>
</g>
<g id="chartB">
<rect x="331" y="1413.5" width="1754" height="1134" fill="none" stroke="#000" stroke-width="3.2"/>
<line x1="314" y1="1413.5" x2="331" y2="1413.5" stroke="#000" stroke-width="3.2"/>
<line x1="314" y1="1612" x2="331" y2="1612" stroke="#000" stroke-width="3.2"/>
<line x1="314" y1="1808.5" x2="331" y2="1808.5" stroke="#000" stroke-width="3.2"/>
<line x1="314" y1="2005" x2="331" y2="2005" stroke="#000" stroke-width="3.2"/>
<line x1="314" y1="2202" x2="331" y2="2202" stroke="#000" stroke-width="3.2"/>
<line x1="314" y1="2399.5" x2="331" y2="2399.5" stroke="#000" stroke-width="3.2"/>
<line x1="508" y1="2547" x2="508" y2="2565" stroke="#000" stroke-width="3.2"/>
<line x1="856" y1="2547" x2="856" y2="2565" stroke="#000" stroke-width="3.2"/>
<line x1="1207.5" y1="2547" x2="1207.5" y2="2565" stroke="#000" stroke-width="3.2"/>
<line x1="1559" y1="2547" x2="1559" y2="2565" stroke="#000" stroke-width="3.2"/>
<line x1="1907" y1="2547" x2="1907" y2="2565" stroke="#000" stroke-width="3.2"/>
<text transform="translate(288.5,1429) scale(1.200,1.000)" font-family="'Liberation Sans', sans-serif" font-size="44.5" fill="#14141c" text-anchor="end" textLength="113.3" lengthAdjust="spacing">60000</text>
<text transform="translate(288.5,1627.5) scale(1.200,1.000)" font-family="'Liberation Sans', sans-serif" font-size="44.5" fill="#14141c" text-anchor="end" textLength="113.3" lengthAdjust="spacing">40000</text>
<text transform="translate(288.5,1824) scale(1.200,1.000)" font-family="'Liberation Sans', sans-serif" font-size="44.5" fill="#14141c" text-anchor="end" textLength="113.3" lengthAdjust="spacing">20000</text>
<text transform="translate(288.5,2019.5) scale(1.200,1.000)" font-family="'Liberation Sans', sans-serif" font-size="44.5" fill="#14141c" text-anchor="end" textLength="20.8" lengthAdjust="spacing">0</text>
<text transform="translate(288.5,2217.5) scale(1.200,1.000)" font-family="'Liberation Sans', sans-serif" font-size="44.5" fill="#14141c" text-anchor="end" textLength="127.5" lengthAdjust="spacing">-20000</text>
<text transform="translate(288.5,2415) scale(1.200,1.000)" font-family="'Liberation Sans', sans-serif" font-size="44.5" fill="#14141c" text-anchor="end" textLength="127.5" lengthAdjust="spacing">-40000</text>
<text transform="translate(506.5,2626) scale(1.200,1.000)" font-family="'Liberation Sans', sans-serif" font-size="44.5" fill="#14141c" text-anchor="middle" textLength="76.7" lengthAdjust="spacing">-0.5</text>
<text transform="translate(856.5,2626) scale(1.200,1.000)" font-family="'Liberation Sans', sans-serif" font-size="44.5" fill="#14141c" text-anchor="middle" textLength="60.8" lengthAdjust="spacing">0.0</text>
<text transform="translate(1208,2626) scale(1.200,1.000)" font-family="'Liberation Sans', sans-serif" font-size="44.5" fill="#14141c" text-anchor="middle" textLength="60.8" lengthAdjust="spacing">0.5</text>
<text transform="translate(1560,2626) scale(1.200,1.000)" font-family="'Liberation Sans', sans-serif" font-size="44.5" fill="#14141c" text-anchor="middle" textLength="59.2" lengthAdjust="spacing">1.0</text>
<text transform="translate(1908.5,2626) scale(1.200,1.000)" font-family="'Liberation Sans', sans-serif" font-size="44.5" fill="#14141c" text-anchor="middle" textLength="60" lengthAdjust="spacing">1.5</text>
<text transform="translate(1205,2718) scale(1.220,1.000)" font-family="'Liberation Sans', sans-serif" font-size="49" fill="#14141c" text-anchor="middle" textLength="80.3" lengthAdjust="spacing">E/V</text>
<text transform="translate(87.5,1976.5) rotate(-90) scale(1.000,1.250)" font-family="'Liberation Sans', sans-serif" font-size="49" fill="#14141c" text-anchor="middle" textLength="111" lengthAdjust="spacing">I/mA</text>
<rect x="370.5" y="1421" width="649" height="340" fill="#fff" stroke="#000" stroke-width="3"/>
<path d="M399.2,1478H408.8M404,1473.2V1482.8" stroke="#ff0000" stroke-width="3.4" fill="none"/>
<path d="M421.9,1478H431.4M426.7,1473.2V1482.8" stroke="#ff0000" stroke-width="3.4" fill="none"/>
<path d="M440.9,1478H450.4M445.7,1473.2V1482.8" stroke="#ff0000" stroke-width="3.4" fill="none"/>
<path d="M462.6,1478H472.1M467.4,1473.2V1482.8" stroke="#ff0000" stroke-width="3.4" fill="none"/>
<path d="M484.2,1478H493.8M489,1473.2V1482.8" stroke="#ff0000" stroke-width="3.4" fill="none"/>
<path d="M503.2,1478H512.8M508,1473.2V1482.8" stroke="#ff0000" stroke-width="3.4" fill="none"/>
<path d="M525.2,1478H534.8M530,1473.2V1482.8" stroke="#ff0000" stroke-width="3.4" fill="none"/>
<path d="M543.2,1478H552.8M548,1473.2V1482.8" stroke="#ff0000" stroke-width="3.4" fill="none"/>
<path d="M565.2,1478H574.8M570,1473.2V1482.8" stroke="#ff0000" stroke-width="3.4" fill="none"/>
<path d="M587.2,1478H596.8M592,1473.2V1482.8" stroke="#ff0000" stroke-width="3.4" fill="none"/>
<path d="M606.9,1478H616.4M611.6,1473.2V1482.8" stroke="#ff0000" stroke-width="3.4" fill="none"/>
<rect x="441" y="1474.5" width="9" height="7" fill="#ff0000"/>
<rect x="588" y="1474.5" width="9" height="7" fill="#ff0000"/>
<line x1="399.5" y1="1536" x2="603" y2="1536" stroke="#00ff00" stroke-width="8.5" stroke-dasharray="58 16.5 57.5 16.5 55 10"/>
<line x1="399.5" y1="1590.5" x2="557" y2="1590.5" stroke="#0000ff" stroke-width="8" stroke-dasharray="53.5 51.5 52 100"/>
<path d="M462.6,1590.5H472.1M467.4,1585.8V1595.2" stroke="#0000ff" stroke-width="3.4" fill="none"/>
<path d="M485.2,1590.5H494.8M490,1585.8V1595.2" stroke="#0000ff" stroke-width="3.4" fill="none"/>
<path d="M565,1590.5H574.5M569.7,1585.8V1595.2" stroke="#0000ff" stroke-width="3.4" fill="none"/>
<path d="M588.2,1590.5H597.8M593,1585.8V1595.2" stroke="#0000ff" stroke-width="3.4" fill="none"/>
<line x1="399.5" y1="1645" x2="616.5" y2="1645" stroke="#ff00ff" stroke-width="9"/>
<line x1="399.5" y1="1702.5" x2="616" y2="1702.5" stroke="#000000" stroke-width="9" stroke-dasharray="71.5 26 67 25.5 27 10"/>
<text transform="translate(662,1491.5) scale(1.100,1.000)" font-family="'Liberation Sans', sans-serif" font-size="44.5" fill="#14141c" textLength="292.7" lengthAdjust="spacing">PANI free ZnO</text>
<text transform="translate(662,1546.5) scale(1.100,1.000)" font-family="'Liberation Sans', sans-serif" font-size="44.5" fill="#14141c" textLength="207.3" lengthAdjust="spacing">0.2g/l ZnO</text>
<text transform="translate(662,1601.5) scale(1.100,1.000)" font-family="'Liberation Sans', sans-serif" font-size="44.5" fill="#14141c" textLength="207.3" lengthAdjust="spacing">0.3g/l ZnO</text>
<text transform="translate(662,1657) scale(1.100,1.000)" font-family="'Liberation Sans', sans-serif" font-size="44.5" fill="#14141c" textLength="207.3" lengthAdjust="spacing">0.4g/l ZnO</text>
<text transform="translate(662,1714.5) scale(1.100,1.000)" font-family="'Liberation Sans', sans-serif" font-size="44.5" fill="#14141c" textLength="207.3" lengthAdjust="spacing">0.5g/l ZnO</text>
<line x1="503.5" y1="2005" x2="1908" y2="2005" stroke="#ff0000" stroke-width="3.2"/>
<line x1="505" y1="2005" x2="1908" y2="2005" stroke="#ff0000" stroke-width="9.5" stroke-dasharray="3.2 6.3"/>
<path d="M1907.7,1894.8L1900.7,1898.7L1893.8,1902.6L1886.9,1906.3L1879.8,1909.8L1883.6,1918L1891,1914.6L1898.3,1910.9L1905.3,1907.1L1912.3,1903.2ZM1860.8,1917.9L1852.4,1921L1844,1923.8L1835.5,1926.5L1827,1929L1818.3,1931.3L1809.7,1933.5L1811.8,1942.2L1820.6,1940L1829.4,1937.6L1838.1,1935.1L1846.8,1932.4L1855.4,1929.5L1864,1926.3ZM1789.3,1938.1L1780.6,1939.9L1771.8,1941.7L1763,1943.4L1754.1,1945L1745.3,1946.6L1736.4,1948.3L1738,1957.1L1746.9,1955.5L1755.8,1953.9L1764.6,1952.2L1773.5,1950.5L1782.4,1948.7L1791.2,1946.9ZM1715.8,1951.9L1706.9,1953.4L1698.1,1954.9L1689.2,1956.3L1680.3,1957.7L1671.5,1959L1662.6,1960.3L1663.9,1969.2L1672.8,1967.9L1681.7,1966.6L1690.6,1965.2L1699.5,1963.7L1708.4,1962.3L1717.3,1960.8ZM1641.8,1963.2L1632.9,1964.5L1624,1965.7L1615.1,1966.8L1606.2,1968L1597.2,1969.2L1588.3,1970.5L1589.5,1979.4L1598.5,1978.2L1607.4,1977L1616.3,1975.8L1625.2,1974.6L1634.1,1973.4L1643.1,1972.1ZM1567.5,1973.3L1558.6,1974.6L1549.7,1975.8L1540.8,1977L1531.9,1978.2L1523,1979.4L1514,1980.5L1515.2,1989.5L1524.1,1988.3L1533,1987.1L1542,1985.9L1550.9,1984.7L1559.8,1983.5L1568.7,1982.3ZM1493.2,1983.1L1484.3,1984.1L1475.4,1985.1L1466.4,1986.1L1457.5,1987.1L1448.6,1988L1439.6,1989L1440.6,1998L1449.5,1997L1458.5,1996L1467.4,1995L1476.4,1994L1485.3,1993L1494.3,1992ZM1418.7,1991.4L1409.8,1992.4L1400.8,1993.5L1391.8,1994.6L1382.9,1995.8L1373.9,1997.2L1365,1998.6L1366.4,2007.4L1375.3,2006.1L1384.1,2004.7L1393,2003.5L1401.9,2002.4L1410.8,2001.3L1419.7,2000.3ZM1344.2,2002.1L1335.3,2003.9L1326.4,2005.7L1317.6,2007.7L1308.8,2009.8L1300,2012L1291.2,2014.3L1293.6,2023L1302.2,2020.7L1310.9,2018.5L1319.6,2016.5L1328.3,2014.5L1337.1,2012.7L1345.8,2011ZM1270.9,2020.3L1262.3,2023.1L1253.7,2026.1L1245.2,2029.2L1236.7,2032.4L1228.2,2035.9L1219.9,2039.5L1223.6,2047.7L1231.7,2044.2L1240,2040.8L1248.3,2037.6L1256.7,2034.5L1265.1,2031.6L1273.6,2028.9ZM1200.7,2048.3L1192.6,2052.2L1184.4,2056.2L1176.4,2060.3L1168.4,2064.5L1160.4,2068.6L1152.4,2072.7L1156.7,2081.1L1164.7,2076.9L1172.7,2072.8L1180.7,2068.7L1188.7,2064.5L1196.6,2060.5L1204.7,2056.6ZM1133.8,2082.5L1125.8,2086.7L1117.8,2090.8L1109.9,2095L1101.9,2099.2L1094,2103.4L1086,2107.6L1090.3,2115.9L1098.3,2111.8L1106.3,2107.6L1114.3,2103.4L1122.2,2099.2L1130.2,2095L1138.1,2090.8ZM1067.4,2117.2L1059.4,2121.3L1051.3,2125.2L1043.3,2129.1L1035.2,2133L1027.1,2136.7L1018.9,2140.3L1022.4,2148.6L1030.7,2145L1039,2141.2L1047.2,2137.4L1055.4,2133.5L1063.5,2129.6L1071.6,2125.5ZM999.6,2147.9L991.2,2150.9L982.8,2153.8L974.3,2156.3L965.7,2158.7L957.1,2160.9L948.4,2162.9L950.4,2171.7L959.2,2169.7L968,2167.4L976.8,2165L985.5,2162.3L994.1,2159.4L1002.7,2156.4ZM928,2167L919.2,2168.5L910.3,2169.9L901.5,2171.2L892.6,2172.4L883.7,2173.4L874.8,2174.5L875.8,2183.4L884.8,2182.4L893.7,2181.3L902.7,2180.1L911.7,2178.8L920.6,2177.4L929.6,2175.9ZM854,2176.5L845.1,2177.3L836.1,2178L827.2,2178.6L818.2,2179.1L809.3,2179.6L800.3,2180L800.7,2189L809.7,2188.6L818.7,2188.1L827.8,2187.6L836.8,2187L845.8,2186.3L854.8,2185.5ZM779.4,2180.6L770.5,2180.7L761.5,2180.8L752.5,2180.8L743.6,2180.8L734.6,2180.7L725.6,2180.6L725.5,2189.6L734.5,2189.7L743.5,2189.8L752.5,2189.8L761.6,2189.8L770.6,2189.7L779.6,2189.6ZM704.6,2180.2L695.7,2179.9L686.7,2179.6L677.8,2179.2L668.8,2178.7L659.9,2178.1L651,2177.3L650.2,2186.3L659.2,2187.1L668.3,2187.7L677.3,2188.2L686.4,2188.6L695.4,2188.9L704.4,2189.2ZM630.3,2175L621.6,2173.7L612.9,2172L604.2,2170.2L595.6,2168.1L587.2,2165.6L578.8,2162.8L575.8,2171.3L584.5,2174.2L593.3,2176.8L602.2,2179L611.1,2180.9L620.1,2182.6L629.2,2183.9ZM559.7,2155L551.7,2151.2L543.7,2147.2L535.7,2143.2L527.9,2139L520.3,2134.5L513.2,2129.6L507.3,2137.9L515.2,2142.9L523.3,2147.3L531.4,2151.5L539.5,2155.5L547.7,2159.4L556,2163.2ZM509.8,2119L515.2,2113.2L521.2,2106.8L527.3,2100.5L533.7,2094.5L540.3,2088.8L547.3,2083.3L540.9,2075L533.7,2080.5L526.5,2086.3L519.6,2092.6L513.2,2099.2L507,2106.1L501.5,2114.6ZM563.9,2071.1L571.2,2066.1L578.8,2061.5L586.5,2057.3L594.4,2053.3L602.4,2049.6L610.6,2046.3L607.4,2037.9L598.9,2041.4L590.5,2045L582.2,2049L574,2053.2L566.1,2057.8L558.3,2062.7ZM630.1,2039.7L638.7,2037.3L647.3,2035L656,2033L664.7,2031.1L673.5,2029.5L682.3,2027.8L680.7,2019L671.8,2020.6L662.9,2022.3L654,2024.2L645.1,2026.3L636.3,2028.6L627.6,2031.1ZM702.9,2024.4L711.7,2023L720.6,2021.7L729.5,2020.5L738.4,2019.4L747.3,2018.3L756.2,2017.4L755.3,2008.4L746.3,2009.4L737.3,2010.4L728.3,2011.6L719.4,2012.8L710.4,2014.1L701.5,2015.5ZM777,2015.5L785.9,2014.9L794.9,2014.3L803.8,2013.8L812.8,2013.4L821.7,2013.1L830.7,2012.8L830.4,2003.8L821.4,2004.1L812.4,2004.4L803.4,2004.8L794.3,2005.3L785.3,2005.9L776.3,2006.5ZM851.7,2012.2L860.7,2012L869.7,2011.7L878.7,2011.5L887.7,2011.1L896.7,2010.8L905.8,2010.4L905.3,2001.4L896.4,2001.8L887.4,2002.1L878.4,2002.5L869.4,2002.8L860.5,2003L851.5,2003.2ZM926.9,2008.8L935.9,2007.9L944.9,2006.9L953.9,2005.6L962.9,2004.1L971.9,2002.4L980.8,2000.4L978.8,1991.7L970.1,1993.5L961.4,1995.2L952.6,1996.7L943.8,1997.9L934.9,1999L926,1999.9ZM1001.4,1995.2L1010.1,1992.7L1018.8,1989.9L1027.4,1986.9L1035.9,1983.8L1044.4,1980.5L1052.8,1977L1049.2,1968.8L1041,1972.2L1032.7,1975.4L1024.4,1978.5L1015.9,1981.4L1007.5,1984.1L998.9,1986.6ZM1072.1,1968.2L1080.2,1964.2L1088.3,1960.1L1096.3,1955.8L1104.3,1951.5L1112.1,1947L1119.9,1942.5L1115,1934.1L1107.3,1938.6L1099.5,1943.1L1091.8,1947.5L1083.9,1951.7L1076,1955.9L1068,1959.9ZM1138.1,1931.7L1145.8,1927.1L1153.5,1922.3L1161.2,1917.6L1168.8,1912.9L1176.5,1908.1L1184.1,1903.3L1178.8,1894.9L1171.2,1899.7L1163.6,1904.5L1156,1909.2L1148.3,1914L1140.7,1918.7L1133,1923.4ZM1201.8,1892L1209.4,1887.2L1217,1882.4L1224.6,1877.5L1232.2,1872.7L1239.8,1868L1247.4,1863.2L1242.3,1854.8L1234.6,1859.6L1226.9,1864.3L1219.3,1869.1L1211.7,1874L1204.1,1878.8L1196.5,1883.7ZM1265.3,1852.3L1273,1847.8L1280.7,1843.3L1288.5,1838.9L1296.4,1834.6L1304.2,1830.3L1312.2,1826.2L1308,1817.9L1299.9,1822L1291.9,1826.2L1283.9,1830.5L1276,1834.9L1268.1,1839.4L1260.3,1843.9ZM1330.9,1816.9L1339,1813.1L1347.1,1809.5L1355.3,1805.9L1363.6,1802.5L1371.9,1799.3L1380.2,1796.3L1377.3,1787.8L1368.7,1790.9L1360.2,1794.2L1351.8,1797.6L1343.5,1801.2L1335.2,1804.9L1326.9,1808.6ZM1400,1790.1L1408.5,1787.8L1417.2,1785.8L1425.9,1784.1L1434.6,1782.7L1443.4,1781.5L1452.2,1780.7L1451.5,1771.7L1442.4,1772.6L1433.3,1773.8L1424.3,1775.2L1415.3,1777L1406.4,1779.1L1397.6,1781.4ZM1472.8,1779.9L1481.6,1780.1L1490.4,1780.7L1499.1,1781.6L1507.9,1782.9L1516.6,1784.5L1525.2,1786.4L1527.4,1777.7L1518.4,1775.7L1509.4,1774.1L1500.3,1772.7L1491.2,1771.7L1482,1771.1L1472.9,1770.9ZM1545.1,1792.1L1553.7,1794.8L1562.2,1797.6L1570.6,1800.5L1579.1,1803.5L1587.6,1806.5L1596.1,1809.5L1599,1801L1590.6,1798.1L1582.1,1795L1573.6,1792L1565,1789.1L1556.4,1786.2L1547.8,1783.5ZM1616,1816.3L1624.5,1819.2L1633.1,1822L1641.7,1824.8L1650.3,1827.6L1658.9,1830.3L1667.5,1833L1670.2,1824.4L1661.6,1821.7L1653,1819L1644.5,1816.2L1635.9,1813.5L1627.4,1810.7L1618.9,1807.8ZM1687.5,1839.2L1696.1,1841.9L1704.7,1844.6L1713.3,1847.3L1721.9,1849.9L1730.5,1852.6L1739.1,1855.3L1741.7,1846.7L1733.2,1844L1724.6,1841.4L1716,1838.7L1707.4,1836L1698.8,1833.3L1690.2,1830.6ZM1759.2,1861.5L1767.8,1864L1776.5,1866.6L1785.2,1869.1L1793.9,1871.5L1802.5,1873.9L1811.2,1876.3L1813.6,1867.7L1804.9,1865.3L1796.3,1862.9L1787.6,1860.4L1779,1858L1770.4,1855.4L1761.8,1852.8ZM1831.5,1881.8L1840.2,1884.1L1848.9,1886.5L1857.6,1888.8L1866.2,1891.2L1874.9,1893.6L1883.5,1896.1L1886,1887.4L1877.3,1885L1868.6,1882.5L1859.9,1880.2L1851.3,1877.8L1842.6,1875.4L1833.9,1873.1ZM1903.7,1901.9L1908.8,1903.3L1911.2,1894.7L1906.2,1893.2Z" fill="#00ff00"/>
<path d="M509.1,2364.6L515.1,2357.9L521,2351.3L527.1,2344.8L533.3,2338.5L539.7,2332.2L546.1,2326L538.5,2318L532,2324.3L525.6,2330.7L519.2,2337.2L512.9,2343.9L506.9,2350.6L500.9,2357.4ZM592.4,2281.7L598.8,2275.5L605.3,2269.4L612,2263.4L618.6,2257.5L625.4,2251.6L632.2,2245.8L625.3,2237.6L618.4,2243.4L611.5,2249.3L604.6,2255.2L597.9,2261.3L591.3,2267.5L584.8,2273.8ZM681.8,2205.6L688.8,2199.9L695.8,2194.3L702.8,2188.6L709.8,2182.9L716.8,2177.3L723.8,2171.6L717.2,2163.4L710.2,2169L703.1,2174.7L696.2,2180.4L689.2,2186L682.2,2191.7L675.2,2197.3ZM774,2132.2L781.2,2126.7L788.3,2121.3L795.5,2115.9L802.7,2110.6L809.9,2105.3L817.2,2100L811.3,2091.8L804,2097.1L796.7,2102.4L789.4,2107.7L782.1,2113.1L774.9,2118.5L767.7,2123.9ZM869.8,2063.8L877.3,2058.8L884.7,2053.8L892.2,2048.8L899.7,2043.7L907.2,2038.6L914.6,2033.5L908.9,2025.3L901.5,2030.4L894.1,2035.5L886.7,2040.6L879.2,2045.6L871.8,2050.6L864.3,2055.6ZM967.2,1997.3L974.7,1992.3L982.2,1987.5L989.8,1982.7L997.4,1978L1005.1,1973.4L1012.8,1968.8L1008,1960.7L1000.2,1965.3L992.5,1969.9L984.7,1974.6L977,1979.3L969.4,1984.2L961.8,1989.1ZM1068.4,1937.4L1076.3,1933.1L1084.2,1928.8L1092.1,1924.4L1099.9,1920L1107.8,1915.6L1115.7,1911.3L1111.3,1903.3L1103.3,1907.6L1095.5,1912L1087.6,1916.3L1079.8,1920.7L1071.9,1925.1L1064,1929.4ZM1172,1881L1179.9,1876.7L1187.8,1872.5L1195.7,1868.2L1203.7,1864L1211.6,1859.8L1219.6,1855.8L1215.6,1847.9L1207.5,1851.9L1199.5,1856L1191.5,1860.2L1183.5,1864.5L1175.6,1868.7L1167.7,1872.9ZM1277.3,1828.3L1285.4,1824.5L1293.6,1820.7L1301.7,1816.8L1309.8,1812.9L1317.9,1809.1L1326.1,1805.3L1322.5,1797.4L1314.3,1801.2L1306.1,1805L1297.9,1808.9L1289.8,1812.8L1281.7,1816.7L1273.6,1820.5ZM1384.8,1780.2L1393.1,1776.8L1401.4,1773.2L1409.7,1769.6L1418,1766.1L1426.2,1762.5L1434.4,1758.9L1431.1,1751.1L1422.8,1754.7L1414.6,1758.3L1406.3,1761.8L1398.1,1765.4L1389.8,1768.9L1381.5,1772.4ZM1493.9,1736L1502.4,1732.8L1510.8,1729.7L1519.3,1726.5L1527.7,1723.3L1536.1,1720.1L1544.5,1716.9L1541.5,1708.9L1533.1,1712.2L1524.7,1715.4L1516.3,1718.6L1507.9,1721.7L1499.4,1724.9L1491,1728ZM1604.6,1694.9L1613,1691.7L1621.4,1688.5L1629.9,1685.3L1638.3,1682.1L1646.7,1678.9L1655.1,1675.8L1652.1,1667.8L1643.7,1671L1635.2,1674.2L1626.8,1677.4L1618.4,1680.6L1610,1683.8L1601.6,1686.9ZM1715.1,1653.6L1723.5,1650.4L1732,1647.3L1740.4,1644.3L1748.8,1641.3L1757.3,1638.4L1765.8,1635.6L1763.2,1627.5L1754.6,1630.3L1746,1633.2L1737.5,1636.3L1729,1639.3L1720.6,1642.4L1712.1,1645.6ZM1826.8,1616.2L1835.4,1613.4L1843.9,1610.7L1852.5,1608L1861.1,1605.5L1869.7,1603L1878.3,1600.5L1876,1592.3L1867.3,1594.8L1858.7,1597.3L1850,1599.9L1841.4,1602.6L1832.8,1605.3L1824.2,1608.1ZM1882.3,1607.6L1875.9,1613.2L1869,1619L1862.1,1624.8L1855.3,1630.6L1848.4,1636.4L1841.5,1642.2L1848.4,1650.4L1855.3,1644.6L1862.2,1638.8L1869.1,1633L1875.9,1627.2L1882.8,1621.4L1890.2,1615.3ZM1792.4,1683.1L1785.4,1688.7L1778.4,1694.2L1771.3,1699.8L1764.2,1705.3L1757.1,1710.7L1749.9,1716.2L1756.2,1724.4L1763.4,1718.9L1770.5,1713.5L1777.7,1708L1784.8,1702.5L1792,1696.9L1799,1691.3ZM1698.9,1754.6L1691.7,1760L1684.4,1765.2L1677.1,1770.5L1669.8,1775.6L1662.4,1780.7L1655,1785.8L1660.6,1794L1668.1,1788.9L1675.5,1783.8L1682.9,1778.7L1690.3,1773.5L1697.7,1768.2L1705,1762.9ZM1602.2,1821.9L1594.7,1827L1587.3,1832L1579.9,1837.1L1572.4,1842.1L1565,1847.1L1557.5,1852.1L1562.9,1860.3L1570.4,1855.3L1578,1850.3L1585.4,1845.3L1592.9,1840.2L1600.3,1835.2L1607.8,1830.1ZM1503.7,1886.6L1496.1,1891.4L1488.5,1896.1L1480.9,1900.9L1473.2,1905.6L1465.6,1910.3L1457.9,1915.1L1462.9,1923.2L1470.6,1918.5L1478.2,1913.8L1485.9,1909L1493.6,1904.3L1501.2,1899.5L1508.9,1894.8ZM1403.2,1948.2L1395.5,1952.8L1387.7,1957.3L1380,1961.8L1372.2,1966.3L1364.4,1970.8L1356.6,1975.2L1361.1,1983.2L1369,1978.8L1376.8,1974.4L1384.7,1969.9L1392.5,1965.4L1400.3,1960.9L1408,1956.3ZM1300.8,2006.6L1292.9,2011L1285.1,2015.5L1277.3,2020L1269.5,2024.5L1261.7,2029L1253.9,2033.5L1258.6,2041.6L1266.4,2037.1L1274.2,2032.6L1282,2028.1L1289.8,2023.6L1297.6,2019.1L1305.4,2014.6ZM1198.4,2065.2L1190.6,2069.7L1182.7,2074.1L1174.9,2078.6L1167.1,2083L1159.3,2087.4L1151.5,2091.7L1155.7,2099.7L1163.7,2095.4L1171.6,2091.1L1179.5,2086.6L1187.3,2082.2L1195.2,2077.7L1203,2073.3ZM1094.4,2120.2L1086.3,2124.1L1078.1,2128L1070,2132L1061.9,2135.9L1053.9,2139.9L1045.8,2144L1049.8,2151.9L1057.8,2147.9L1065.9,2143.9L1073.9,2139.9L1082,2135.9L1090.1,2132L1098.2,2128.1ZM988.6,2172.5L980.5,2176.5L972.5,2180.5L964.4,2184.5L956.3,2188.4L948.2,2192.3L940.1,2196.1L943.7,2203.9L951.9,2200.1L960.1,2196.3L968.2,2192.4L976.3,2188.4L984.4,2184.5L992.5,2180.5ZM881.9,2222.8L873.8,2226.6L865.6,2230.4L857.4,2234.2L849.3,2238L841.2,2241.7L833,2245.4L836.5,2253.2L844.7,2249.5L852.9,2245.8L861.1,2242L869.2,2238.2L877.4,2234.4L885.6,2230.6ZM774.5,2271.3L766.2,2275L758,2278.7L749.8,2282.3L741.6,2285.9L733.3,2289.5L725.1,2293L728.4,2300.8L736.7,2297.3L745,2293.7L753.2,2290.1L761.5,2286.4L769.7,2282.8L777.9,2279.1ZM665.8,2316.5L657.4,2319.5L648.9,2322.4L640.4,2325.3L631.9,2328L623.3,2330.6L614.7,2333.2L617.2,2341.4L625.8,2338.7L634.4,2336.1L643,2333.3L651.6,2330.5L660.2,2327.5L668.7,2324.5ZM553.5,2351.3L545.6,2353.3L537.5,2354.9L529.5,2356L521.5,2356.7L513.3,2356.8L505,2356.8L505,2365.2L513.4,2365.3L521.9,2365.2L530.5,2364.4L539,2363.3L547.4,2361.6L555.6,2359.5ZM553.5,2305h9.8v3.8h-9.8zM556.5,2302h3.8v9.8h-3.8zM567.9,2291.2h9.8v3.8h-9.8zM570.9,2288.2h3.8v9.8h-3.8zM640.9,2225.9h9.8v3.8h-9.8zM643.9,2222.9h3.8v9.8h-3.8zM656.5,2213.4h9.8v3.8h-9.8zM659.5,2210.4h3.8v9.8h-3.8zM732.8,2151.9h9.8v3.8h-9.8zM735.8,2148.9h3.8v9.8h-3.8zM748.5,2139.6h9.8v3.8h-9.8zM751.5,2136.6h3.8v9.8h-3.8zM827.4,2081.4h9.8v3.8h-9.8zM830.4,2078.4h3.8v9.8h-3.8zM843.9,2070h9.8v3.8h-9.8zM846.9,2067h3.8v9.8h-3.8zM924.8,2014.9h9.8v3.8h-9.8zM927.8,2011.9h3.8v9.8h-3.8zM941.3,2003.5h9.8v3.8h-9.8zM944.3,2000.5h3.8v9.8h-3.8zM1024.5,1951.8h9.8v3.8h-9.8zM1027.5,1948.8h3.8v9.8h-3.8zM1042,1942.1h9.8v3.8h-9.8zM1045,1939.1h3.8v9.8h-3.8zM1127.9,1894.9h9.8v3.8h-9.8zM1130.9,1891.9h3.8v9.8h-3.8zM1145.5,1885.4h9.8v3.8h-9.8zM1148.5,1882.4h3.8v9.8h-3.8zM1232.5,1840.3h9.8v3.8h-9.8zM1235.5,1837.3h3.8v9.8h-3.8zM1250.6,1831.8h9.8v3.8h-9.8zM1253.6,1828.8h3.8v9.8h-3.8zM1339.5,1790.5h9.8v3.8h-9.8zM1342.5,1787.5h3.8v9.8h-3.8zM1357.9,1782.8h9.8v3.8h-9.8zM1360.9,1779.8h3.8v9.8h-3.8zM1448.2,1744.8h9.8v3.8h-9.8zM1451.2,1741.8h3.8v9.8h-3.8zM1466.9,1737.6h9.8v3.8h-9.8zM1469.9,1734.6h3.8v9.8h-3.8zM1558.7,1703.4h9.8v3.8h-9.8zM1561.7,1700.4h3.8v9.8h-3.8zM1577.5,1696.5h9.8v3.8h-9.8zM1580.5,1693.5h3.8v9.8h-3.8zM1669.3,1662.3h9.8v3.8h-9.8zM1672.3,1659.3h3.8v9.8h-3.8zM1688.1,1655.4h9.8v3.8h-9.8zM1691.1,1652.4h3.8v9.8h-3.8zM1780.6,1623h9.8v3.8h-9.8zM1783.6,1620h3.8v9.8h-3.8zM1799.7,1617h9.8v3.8h-9.8zM1802.7,1614h3.8v9.8h-3.8zM1893.5,1588.7h9.8v3.8h-9.8zM1896.5,1585.7h3.8v9.8h-3.8zM1896.4,1593.5h9.8v3.8h-9.8zM1899.4,1590.5h3.8v9.8h-3.8zM1823.2,1658.5h9.8v3.8h-9.8zM1826.2,1655.5h3.8v9.8h-3.8zM1807.9,1671.4h9.8v3.8h-9.8zM1810.9,1668.4h3.8v9.8h-3.8zM1730.6,1731.7h9.8v3.8h-9.8zM1733.6,1728.7h3.8v9.8h-3.8zM1714.7,1743.7h9.8v3.8h-9.8zM1717.7,1740.7h3.8v9.8h-3.8zM1634.8,1800.4h9.8v3.8h-9.8zM1637.8,1797.4h3.8v9.8h-3.8zM1618.2,1811.7h9.8v3.8h-9.8zM1621.2,1808.7h3.8v9.8h-3.8zM1536.9,1866.3h9.8v3.8h-9.8zM1539.9,1863.3h3.8v9.8h-3.8zM1520,1877.1h9.8v3.8h-9.8zM1523,1874.1h3.8v9.8h-3.8zM1436.7,1928.7h9.8v3.8h-9.8zM1439.7,1925.7h3.8v9.8h-3.8zM1419.6,1939.1h9.8v3.8h-9.8zM1422.6,1936.1h3.8v9.8h-3.8zM1334.8,1988.1h9.8v3.8h-9.8zM1337.8,1985.1h3.8v9.8h-3.8zM1317.3,1997.9h9.8v3.8h-9.8zM1320.3,1994.9h3.8v9.8h-3.8zM1232.3,2046.6h9.8v3.8h-9.8zM1235.3,2043.6h3.8v9.8h-3.8zM1214.9,2056.5h9.8v3.8h-9.8zM1217.9,2053.5h3.8v9.8h-3.8zM1129.1,2103.9h9.8v3.8h-9.8zM1132.1,2100.9h3.8v9.8h-3.8zM1111.2,2112.7h9.8v3.8h-9.8zM1114.2,2109.7h3.8v9.8h-3.8zM1023.2,2155.9h9.8v3.8h-9.8zM1026.2,2152.9h3.8v9.8h-3.8zM1005.3,2164.8h9.8v3.8h-9.8zM1008.3,2161.8h3.8v9.8h-3.8zM917,2207.3h9.8v3.8h-9.8zM920,2204.3h3.8v9.8h-3.8zM898.8,2215.6h9.8v3.8h-9.8zM901.8,2212.6h3.8v9.8h-3.8zM809.7,2256.3h9.8v3.8h-9.8zM812.7,2253.3h3.8v9.8h-3.8zM791.4,2264.4h9.8v3.8h-9.8zM794.4,2261.4h3.8v9.8h-3.8zM701.5,2303.4h9.8v3.8h-9.8zM704.5,2300.4h3.8v9.8h-3.8zM682.9,2310.8h9.8v3.8h-9.8zM685.9,2307.8h3.8v9.8h-3.8zM590,2341.8h9.8v3.8h-9.8zM593,2338.8h3.8v9.8h-3.8zM570.8,2347.5h9.8v3.8h-9.8zM573.8,2344.5h3.8v9.8h-3.8z" fill="#0000ff"/>
<path d="M505,2386C509.4,2380.6 520.4,2366.9 531.2,2353.8C542.1,2340.6 556.2,2323.6 570.2,2307C584.3,2290.4 600.6,2271.1 615.8,2254C630.9,2236.9 646,2220.2 661,2204.2C676,2188.2 691,2173 706,2158C721,2143 736.1,2128.1 751.2,2114C766.4,2099.9 781.6,2085.9 796.8,2073.2C811.9,2060.6 828.3,2048 842,2038C855.7,2028 868.4,2020.3 879,2013.2C889.6,2006.2 896.3,2002.3 905.8,1995.5C915.2,1988.7 924.8,1980.7 935.8,1972.2C946.7,1963.8 959.4,1953.5 971.2,1944.8C983.1,1936 995,1927.6 1007,1919.8C1019,1911.9 1031,1904.8 1043,1897.5C1055,1890.2 1066.9,1883.4 1078.8,1876.2C1090.6,1869.1 1102.4,1861.7 1114.2,1854.5C1126.1,1847.3 1138.1,1840.1 1150,1833.2C1161.9,1826.4 1173.9,1819.8 1185.8,1813.2C1197.6,1806.7 1209.4,1800.2 1221.2,1793.8C1233.1,1787.3 1245,1780.8 1257,1774.5C1269,1768.2 1280,1762.8 1293,1756.2C1306,1749.7 1319.2,1743.2 1335.2,1735.2C1351.3,1727.3 1370.2,1717.3 1389.5,1708.8C1408.8,1700.2 1430,1691.3 1451.2,1683.8C1472.5,1676.2 1494.6,1670.2 1516.8,1663.5C1538.9,1656.8 1561.7,1650.4 1584.2,1643.8C1606.8,1637.1 1629.4,1630.6 1652,1623.8C1674.6,1616.9 1698.3,1609.8 1720,1602.8C1741.7,1595.7 1763.8,1587.7 1782.2,1581.2C1800.8,1574.8 1816.2,1569.3 1831,1564.2C1845.8,1559.2 1857.6,1555.4 1870.8,1551C1883.9,1546.6 1903.5,1540.2 1910,1538L1897,1549C1894.7,1551.6 1888.8,1558.7 1883,1564.8C1877.2,1570.8 1870.9,1577 1862,1585.5C1853.1,1594 1842.1,1604.5 1829.8,1615.8C1817.4,1627 1802.5,1640.3 1788,1653.2C1773.5,1666.2 1758,1679.9 1743,1693.2C1728,1706.6 1712.9,1720.1 1697.8,1733.2C1682.6,1746.4 1667.4,1759.5 1652.2,1772.2C1637.1,1785 1622,1797.6 1607,1809.8C1592,1821.9 1575.8,1834.4 1562,1845C1548.2,1855.6 1534.8,1865.5 1524,1873.2C1513.2,1881 1506.1,1885.6 1497,1891.8C1487.9,1897.9 1479.7,1903.1 1469.5,1910.2C1459.3,1917.4 1447.3,1926.2 1435.8,1934.8C1424.2,1943.3 1411.9,1952.5 1400,1961.8C1388.1,1971 1376.1,1980.6 1364.2,1990C1352.4,1999.4 1340.6,2009.2 1328.8,2018.2C1316.9,2027.2 1304.2,2036.4 1293,2044C1281.8,2051.6 1271.4,2057.9 1261.8,2063.8C1252.1,2069.6 1245.3,2073.2 1235.2,2079C1225.2,2084.8 1214.3,2091.2 1201.5,2098.8C1188.7,2106.3 1173,2115.9 1158.2,2124.5C1143.5,2133.1 1128,2142.1 1113,2150.5C1098,2158.9 1083,2167 1068,2175C1053,2183 1038,2190.9 1023,2198.5C1008,2206.1 992.9,2213.4 977.8,2220.5C962.6,2227.6 947.4,2234.4 932.2,2241.2C917.1,2248.1 902,2255 887,2261.8C872,2268.5 857,2275.1 842,2281.5C827,2287.9 811.9,2293.9 796.8,2300C781.6,2306.1 766.4,2312.2 751.2,2318C736.1,2323.8 721,2329.7 706,2335C691,2340.3 676,2345.2 661,2350C646,2354.8 631.2,2359 615.8,2363.8C600.2,2368.5 582.8,2374.2 568,2378.2C553.2,2382.3 537.2,2387 526.8,2388.2C516.2,2389.5 508.6,2386.4 505,2386" fill="none" stroke="#ff00ff" stroke-width="8.5" stroke-linejoin="round"/>
<path d="M509.3,2389.5L516.8,2380.1L524.4,2370.8L532,2361.6L539.6,2352.3L547.3,2343.1L555,2333.9L562.7,2324.7L570.4,2315.5L578.2,2306.3L585.9,2297.2L593.7,2288L601.5,2279L609.4,2269.9L617.3,2260.9L625.2,2251.9L633.2,2243L641.2,2234.1L649.3,2225.3L657.4,2216.5L665.6,2207.7L673.9,2199L682.1,2190.4L690.5,2181.8L698.9,2173.3L707.3,2164.8L715.8,2156.3L724.3,2147.9L732.9,2139.5L741.5,2131.2L750.2,2122.9L758.9,2114.7L767.7,2106.6L776.5,2098.6L785.4,2090.6L794.3,2082.7L803.4,2074.9L812.6,2067.4L821.9,2059.9L831.4,2052.6L840.9,2045.4L850.4,2038.3L860.2,2031.5L870.2,2025L880.3,2018.4L890.3,2011.8L900.5,2005.3L910.6,1998.5L920.4,1991.2L929.9,1983.8L939.3,1976.4L948.7,1969L958.2,1961.6L967.6,1954.2L977.1,1947L986.7,1940L996.5,1933.1L1006.3,1926.3L1016.2,1919.7L1026.3,1913.3L1036.5,1907.1L1046.8,1900.9L1057,1894.7L1067.4,1888.6L1077.7,1882.5L1088.1,1876.3L1098.3,1870L1108.5,1863.7L1118.8,1857.4L1129,1851.2L1139.3,1845.1L1149.6,1839L1160,1833L1170.4,1827.1L1180.9,1821.3L1191.4,1815.5L1201.9,1809.7L1212.4,1803.9L1222.9,1798.1L1233.5,1792.4L1244,1786.6L1254.5,1781L1265.1,1775.4L1275.8,1769.9L1286.5,1764.5L1297.2,1759.1L1307.9,1753.8L1318.7,1748.4L1329.4,1743.1L1340.2,1737.8L1351,1732.4L1361.7,1727L1372.4,1721.6L1383.1,1716.4L1394,1711.4L1404.9,1706.6L1415.9,1702L1427,1697.5L1438.1,1693.1L1449.3,1689L1460.6,1685L1471.9,1681.3L1483.3,1677.8L1494.8,1674.4L1506.4,1671L1517.9,1667.6L1529.4,1664.2L1540.9,1660.8L1552.4,1657.4L1563.9,1654.1L1575.5,1650.7L1587,1647.4L1598.5,1644L1610.1,1640.6L1621.6,1637.2L1633.1,1633.8L1644.6,1630.4L1656.2,1626.9L1667.7,1623.5L1679.2,1620L1690.7,1616.5L1702.1,1612.9L1713.6,1609.3L1725.1,1605.6L1736.5,1601.7L1747.9,1597.8L1759.2,1593.8L1770.6,1589.8L1781.9,1585.9L1793.2,1581.9L1804.6,1578L1815.9,1574L1827.2,1570L1838.6,1566.2L1849.9,1562.4L1861.3,1558.6L1872.7,1554.8L1884.1,1551L1895.5,1547.3L1901.4,1539L1900.7,1538.5L1891.5,1546.6L1883.3,1556L1875.2,1564.5L1866.8,1572.9L1858.2,1581.2L1849.5,1589.5L1840.8,1597.7L1832,1605.8L1823.2,1613.9L1814.3,1622L1805.4,1630L1796.5,1638L1787.5,1646L1778.6,1654L1769.6,1662L1760.6,1670L1751.6,1677.9L1742.7,1685.9L1733.7,1693.9L1724.7,1701.9L1715.7,1709.8L1706.7,1717.8L1697.7,1725.7L1688.7,1733.6L1679.7,1741.5L1670.6,1749.3L1661.5,1757.1L1652.3,1764.9L1643.2,1772.6L1634,1780.3L1624.8,1788L1615.6,1795.6L1606.3,1803.2L1597,1810.8L1587.6,1818.2L1578.2,1825.6L1568.8,1833L1559.3,1840.3L1549.8,1847.6L1540.2,1854.8L1530.6,1861.9L1520.9,1869L1511.3,1875.9L1501.4,1882.7L1491.4,1889.4L1481.4,1896L1471.4,1902.7L1461.4,1909.6L1451.6,1916.6L1441.9,1923.7L1432.2,1930.8L1422.5,1938L1412.9,1945.2L1403.3,1952.5L1393.7,1959.8L1384.2,1967.2L1374.8,1974.7L1365.4,1982.1L1355.9,1989.6L1346.6,1997.2L1337.3,2004.7L1327.9,2012.1L1318.5,2019.3L1308.9,2026.4L1299.2,2033.4L1289.4,2040.3L1279.6,2046.9L1269.5,2053.3L1259.3,2059.6L1249.1,2065.7L1238.7,2071.6L1228.2,2077.6L1217.8,2083.6L1207.4,2089.7L1197.1,2095.8L1186.7,2101.9L1176.4,2108.1L1166.1,2114.3L1155.8,2120.4L1145.5,2126.4L1135.1,2132.5L1124.7,2138.4L1114.3,2144.4L1103.9,2150.2L1093.4,2156L1082.8,2161.8L1072.3,2167.5L1061.7,2173.2L1051.1,2178.8L1040.5,2184.4L1029.9,2189.9L1019.2,2195.4L1008.5,2200.7L997.8,2206L987,2211.3L976.2,2216.4L965.4,2221.5L954.5,2226.5L943.5,2231.5L932.6,2236.4L921.6,2241.4L910.7,2246.3L899.8,2251.3L888.8,2256.3L877.9,2261.2L866.9,2266L856,2270.9L845,2275.6L833.9,2280.3L822.9,2284.9L811.8,2289.4L800.6,2293.9L789.5,2298.3L778.3,2302.8L767.2,2307.2L756,2311.6L744.8,2315.9L733.6,2320.2L722.4,2324.5L711.2,2328.6L699.9,2332.6L688.6,2336.5L677.3,2340.3L665.9,2344L654.4,2347.6L643,2351.1L631.5,2354.6L620,2358L608.5,2361.5L597,2365.1L585.6,2368.7L574.1,2372.1L562.6,2375.3L551.1,2378.5L539.5,2381.5L528.1,2383.8L517.1,2384L505.9,2381.8L504.1,2390.2L516.5,2392.5L529.4,2392.2L541.5,2389.7L553.3,2386.7L564.9,2383.5L576.5,2380.3L588,2376.8L599.5,2373.2L611,2369.7L622.5,2366.2L634,2362.7L645.5,2359.3L657,2355.7L668.5,2352.1L679.9,2348.4L691.3,2344.6L702.7,2340.6L714.1,2336.6L725.4,2332.4L736.7,2328.2L747.9,2323.8L759.1,2319.5L770.3,2315.1L781.5,2310.7L792.6,2306.2L803.8,2301.7L814.9,2297.3L826.1,2292.7L837.2,2288.1L848.3,2283.4L859.4,2278.6L870.4,2273.8L881.4,2268.9L892.3,2264L903.3,2259.1L914.3,2254.2L925.2,2249.2L936.1,2244.2L947,2239.3L958,2234.3L969,2229.3L979.9,2224.3L990.8,2219.2L1001.6,2214L1012.5,2208.7L1023.3,2203.4L1034,2198L1044.7,2192.4L1055.4,2186.9L1066,2181.2L1076.6,2175.6L1087.2,2169.9L1097.8,2164.2L1108.4,2158.4L1118.9,2152.6L1129.4,2146.7L1139.8,2140.7L1150.3,2134.7L1160.7,2128.6L1171,2122.5L1181.4,2116.4L1191.7,2110.2L1202,2104.1L1212.3,2098L1222.6,2091.9L1233,2085.8L1243.3,2079.8L1253.8,2073.9L1264.3,2067.9L1274.6,2061.6L1284.9,2055.3L1295.1,2048.7L1305.1,2041.9L1315,2034.9L1324.8,2027.8L1334.5,2020.6L1344.1,2013.2L1353.5,2005.7L1362.8,1998.2L1372.2,1990.7L1381.6,1983.2L1391,1975.7L1400.3,1968.3L1409.8,1961L1419.3,1953.7L1428.9,1946.5L1438.5,1939.3L1448.1,1932.2L1457.8,1925.1L1467.5,1918.1L1477.2,1911.2L1487,1904.5L1497.1,1897.8L1507,1891.1L1517.1,1884.4L1527,1877.5L1536.8,1870.5L1546.5,1863.3L1556.2,1856.1L1565.8,1848.9L1575.4,1841.5L1584.9,1834.2L1594.4,1826.8L1603.8,1819.3L1613.2,1811.8L1622.6,1804.2L1631.9,1796.6L1641.1,1788.9L1650.4,1781.1L1659.6,1773.4L1668.7,1765.6L1677.9,1757.8L1687,1750L1696.1,1742.2L1705.2,1734.3L1714.3,1726.3L1723.3,1718.4L1732.3,1710.4L1741.3,1702.4L1750.2,1694.5L1759.2,1686.5L1768.2,1678.5L1777.2,1670.5L1786.2,1662.6L1795.1,1654.6L1804.1,1646.6L1813.1,1638.6L1822,1630.5L1830.9,1622.4L1839.8,1614.3L1848.6,1606.1L1857.4,1597.8L1866.1,1589.5L1874.8,1581.1L1883.4,1572.6L1891.8,1563.7L1899.4,1554.9L1908,1547L1909.8,1539.9L1892.9,1539.2L1881.5,1543L1870.1,1546.7L1858.7,1550.5L1847.3,1554.3L1835.8,1558.1L1824.5,1562L1813.1,1566L1801.8,1569.9L1790.4,1573.9L1779.1,1577.8L1767.7,1581.8L1756.4,1585.8L1745.1,1589.8L1733.8,1593.7L1722.4,1597.5L1711,1601.2L1699.6,1604.8L1688.2,1608.3L1676.7,1611.8L1665.2,1615.3L1653.7,1618.8L1642.2,1622.3L1630.7,1625.7L1619.2,1629.1L1607.7,1632.5L1596.2,1635.8L1584.6,1639.2L1573.1,1642.6L1561.6,1645.9L1550,1649.3L1538.5,1652.6L1527,1656L1515.4,1659.5L1503.9,1662.9L1492.4,1666.3L1480.9,1669.7L1469.4,1673.2L1457.9,1677L1446.4,1681L1435.1,1685.2L1423.9,1689.6L1412.7,1694.1L1401.6,1698.8L1390.5,1703.6L1379.5,1708.6L1368.5,1713.7L1357.7,1719L1347,1724.4L1336.3,1729.8L1325.5,1735.1L1314.7,1740.4L1304,1745.8L1293.2,1751.1L1282.5,1756.5L1271.7,1761.9L1261,1767.3L1250.3,1772.9L1239.6,1778.5L1229,1784.2L1218.5,1790L1207.9,1795.7L1197.4,1801.5L1186.9,1807.3L1176.3,1813.1L1165.8,1818.9L1155.3,1824.8L1144.8,1830.8L1134.4,1836.8L1124.1,1843L1113.7,1849.1L1103.4,1855.4L1093.2,1861.7L1083,1868L1072.8,1874.2L1062.5,1880.3L1052.1,1886.4L1041.8,1892.6L1031.5,1898.8L1021.2,1905L1010.9,1911.3L1000.7,1917.9L990.6,1924.6L980.7,1931.5L970.8,1938.5L961.1,1945.7L951.5,1953L942,1960.4L932.6,1967.8L923.1,1975.2L913.7,1982.7L904.4,1990L894.9,1996.9L884.9,2003.5L874.8,2010L864.7,2016.6L854.6,2023.1L844.5,2029.9L834.6,2036.9L824.9,2044.1L815.3,2051.4L805.8,2058.8L796.3,2066.4L787,2074.1L777.8,2082L768.8,2090L759.9,2098.1L751.1,2106.3L742.3,2114.6L733.5,2122.9L724.9,2131.3L716.3,2139.7L707.7,2148.2L699.2,2156.7L690.7,2165.2L682.3,2173.8L673.9,2182.4L665.5,2191.1L657.2,2199.8L649,2208.7L640.8,2217.5L632.7,2226.4L624.7,2235.3L616.7,2244.3L608.7,2253.4L600.8,2262.5L593,2271.6L585.2,2280.8L577.4,2289.9L569.6,2299.1L561.9,2308.3L554.1,2317.5L546.4,2326.7L538.7,2336L531.1,2345.2L523.4,2354.5L515.8,2363.9L508.3,2373.2L500.7,2382.5Z" fill="#ff00ff"/>
<path d="M509.3,2452.3L514.5,2445.6L519.7,2438.9L524.9,2432.2L530.2,2425.6L535.5,2419L540.8,2412.4L532.3,2405.5L526.9,2412.1L521.6,2418.8L516.3,2425.5L511.1,2432.2L505.9,2439L500.7,2445.7ZM560.5,2388.5L566.6,2381.2L572.7,2374L578.8,2366.7L584.9,2359.5L591.1,2352.3L597.3,2345.1L603.5,2337.9L609.7,2330.8L601.1,2323.3L594.9,2330.5L588.7,2337.8L582.5,2345L576.4,2352.2L570.2,2359.5L564.1,2366.8L558,2374.1L552,2381.4ZM630.3,2307.7L636.6,2300.7L643.1,2293.8L649.5,2286.8L656,2279.9L662.5,2273L669,2266.1L675.6,2259.3L682.2,2252.5L673.9,2244.5L667.3,2251.3L660.7,2258.2L654.1,2265.1L647.6,2272L641.1,2279L634.6,2286L628.2,2293L621.8,2300ZM703.9,2230.4L710.6,2223.7L717.2,2217L724,2210.3L730.7,2203.6L737.4,2196.9L744.2,2190.2L750.9,2183.5L757.7,2176.9L749.6,2168.7L742.9,2175.4L736.1,2182L729.3,2188.7L722.6,2195.4L715.8,2202.1L709.1,2208.9L702.4,2215.6L695.7,2222.4ZM779.9,2155.3L786.7,2148.7L793.6,2142.2L800.4,2135.7L807.4,2129.2L814.3,2122.7L821.2,2116.3L828.2,2109.8L835.2,2103.5L827.5,2094.9L820.4,2101.4L813.4,2107.8L806.4,2114.3L799.5,2120.8L792.6,2127.3L785.6,2133.9L778.8,2140.4L771.9,2147ZM858.2,2082.8L865.3,2076.5L872.4,2070.3L879.6,2064L886.7,2057.8L893.9,2051.7L901.2,2045.5L908.4,2039.4L915.6,2033.3L908.5,2024.7L901.2,2030.8L893.9,2037L886.6,2043.1L879.4,2049.3L872.2,2055.5L865,2061.7L857.8,2068L850.6,2074.2ZM939.4,2013.5L946.8,2007.5L954.1,2001.5L961.5,1995.5L968.9,1989.5L976.2,1983.6L983.7,1977.6L991.1,1971.7L998.5,1965.9L991.8,1957.3L984.3,1963.2L976.9,1969.1L969.4,1975L962,1981L954.6,1986.9L947.2,1992.9L939.8,1998.9L932.4,2004.9ZM1022.9,1946.8L1030.4,1941L1038,1935.3L1045.5,1929.5L1053.1,1923.8L1060.7,1918.1L1068.3,1912.5L1075.9,1906.9L1083.5,1901.3L1077.4,1892.8L1069.7,1898.4L1062,1904L1054.3,1909.6L1046.7,1915.3L1039.1,1921L1031.5,1926.7L1023.9,1932.5L1016.3,1938.3ZM1108.7,1883.2L1116.4,1877.7L1124.2,1872.3L1131.9,1866.9L1139.8,1861.5L1147.6,1856.1L1155.4,1850.8L1163.3,1845.4L1171.1,1840.1L1165.4,1831.7L1157.6,1837L1149.7,1842.3L1141.8,1847.7L1134,1853L1126.1,1858.4L1118.3,1863.8L1110.5,1869.3L1102.7,1874.7ZM1196.9,1822.9L1204.8,1817.6L1212.7,1812.4L1220.6,1807.2L1228.6,1802L1236.5,1796.9L1244.5,1791.7L1252.5,1786.6L1260.5,1781.6L1255.3,1773.2L1247.2,1778.3L1239.2,1783.4L1231.1,1788.5L1223.1,1793.7L1215.2,1798.8L1207.2,1804L1199.2,1809.2L1191.3,1814.5ZM1286.8,1765.3L1294.9,1760.4L1303,1755.5L1311.2,1750.7L1319.4,1746L1327.6,1741.3L1335.8,1736.6L1344.1,1732L1352.4,1727.5L1348,1719.3L1339.6,1723.9L1331.3,1728.4L1323,1733.1L1314.7,1737.8L1306.4,1742.5L1298.1,1747.3L1289.9,1752.1L1281.8,1757ZM1379.7,1713L1388.2,1708.6L1396.6,1704.3L1405.1,1700.1L1413.6,1695.9L1422.1,1691.7L1430.6,1687.6L1439.2,1683.5L1447.7,1679.4L1444,1671.5L1435.4,1675.6L1426.8,1679.6L1418.2,1683.8L1409.7,1687.9L1401.1,1692.1L1392.6,1696.3L1384.1,1700.6L1375.6,1704.9ZM1475.8,1666.3L1484.4,1662.4L1493.1,1658.5L1501.7,1654.6L1510.4,1650.7L1519.1,1646.9L1527.8,1643.1L1536.5,1639.3L1545.2,1635.5L1541.8,1627.8L1533.1,1631.5L1524.4,1635.3L1515.7,1639.1L1507,1643L1498.3,1646.8L1489.6,1650.7L1480.9,1654.6L1472.2,1658.5ZM1573.6,1623.3L1582.4,1619.5L1591.1,1615.7L1599.8,1612L1608.5,1608.2L1617.2,1604.4L1626,1600.6L1634.7,1596.9L1643.4,1593.1L1640,1585.3L1631.3,1589.1L1622.6,1592.8L1613.9,1596.6L1605.1,1600.4L1596.4,1604.2L1587.7,1607.9L1579,1611.7L1570.3,1615.5ZM1671.9,1580.9L1680.6,1577.2L1689.4,1573.5L1698.1,1569.9L1706.9,1566.3L1715.7,1562.7L1724.4,1559.1L1733.2,1555.5L1742.1,1552L1738.9,1544.1L1730.1,1547.6L1721.3,1551.2L1712.4,1554.8L1703.6,1558.4L1694.9,1562L1686.1,1565.7L1677.3,1569.4L1668.5,1573.1ZM1770.9,1540.7L1779.7,1537.3L1788.6,1533.9L1797.5,1530.6L1806.4,1527.2L1815.2,1523.9L1824.1,1520.5L1833,1517.2L1841.9,1514L1839,1506L1830.1,1509.3L1821.2,1512.6L1812.3,1515.9L1803.4,1519.2L1794.5,1522.6L1785.6,1526L1776.7,1529.4L1767.8,1532.8ZM1871,1503.4L1880,1500.2L1888.9,1497L1897.9,1493.8L1901.3,1484.1L1902.8,1485.1L1896.7,1492.2L1890.6,1499.5L1884.5,1506.8L1893,1514L1899.1,1506.7L1905.2,1499.4L1911.3,1492L1909.5,1489.1L1895,1485.8L1886.1,1489L1877.1,1492.2L1868.2,1495.4ZM1863.9,1529.5L1857.4,1536.4L1850.8,1543.3L1844.2,1550.1L1837.7,1557L1831.1,1563.8L1824.5,1570.6L1817.9,1577.4L1811.3,1584.2L1819.5,1592.3L1826.1,1585.5L1832.8,1578.6L1839.4,1571.8L1846,1564.9L1852.6,1558.1L1859.1,1551.2L1865.7,1544.3L1872.2,1537.4ZM1789.6,1606.3L1782.9,1613L1776.1,1619.7L1769.4,1626.3L1762.6,1633L1755.8,1639.6L1749,1646.1L1742.1,1652.7L1735.3,1659.2L1743.2,1667.6L1750.1,1661L1757,1654.4L1763.8,1647.8L1770.6,1641.2L1777.4,1634.5L1784.2,1627.8L1791,1621.1L1797.7,1614.4ZM1712.6,1680.3L1705.6,1686.6L1698.6,1693L1691.6,1699.4L1684.5,1705.7L1677.4,1712L1670.3,1718.2L1663.1,1724.4L1656,1730.6L1663.3,1739.2L1670.6,1733L1677.7,1726.8L1684.9,1720.5L1692.1,1714.2L1699.2,1707.9L1706.3,1701.5L1713.4,1695.2L1720.4,1688.7ZM1632.5,1750.8L1625.2,1756.9L1617.9,1763L1610.7,1769.1L1603.4,1775.1L1596.1,1781.2L1588.7,1787.2L1581.4,1793.2L1574.1,1799.2L1581,1807.8L1588.4,1801.8L1595.8,1795.8L1603.1,1789.7L1610.4,1783.7L1617.8,1777.6L1625.1,1771.5L1632.4,1765.4L1639.7,1759.3ZM1550,1818.8L1542.6,1824.7L1535.2,1830.7L1527.8,1836.6L1520.4,1842.5L1513,1848.4L1505.5,1854.3L1498.1,1860.2L1490.7,1866.1L1497.4,1874.7L1504.9,1868.8L1512.3,1862.9L1519.8,1857L1527.2,1851.1L1534.6,1845.1L1542.1,1839.2L1549.5,1833.3L1556.9,1827.3ZM1466.3,1885.3L1458.8,1891.1L1451.3,1897L1443.9,1902.8L1436.4,1908.6L1428.8,1914.4L1421.3,1920.2L1413.8,1926L1406.3,1931.8L1412.7,1940.3L1420.3,1934.5L1427.9,1928.8L1435.4,1923L1443,1917.2L1450.5,1911.3L1458,1905.5L1465.5,1899.7L1473,1893.8ZM1381.6,1950.4L1374,1956.1L1366.4,1961.8L1358.8,1967.5L1351.2,1973.2L1343.5,1978.8L1335.9,1984.5L1328.3,1990.1L1320.6,1995.8L1326.9,2004.3L1334.5,1998.6L1342.2,1993L1349.8,1987.3L1357.5,1981.7L1365.1,1976L1372.7,1970.4L1380.4,1964.7L1388,1959ZM1295.7,2014.1L1288,2019.7L1280.3,2025.3L1272.6,2030.9L1265,2036.4L1257.3,2042L1249.5,2047.5L1241.8,2053L1234.1,2058.5L1240.1,2067L1247.9,2061.5L1255.6,2056L1263.3,2050.5L1271.1,2044.9L1278.8,2039.4L1286.5,2033.8L1294.2,2028.2L1301.9,2022.6ZM1208.8,2076.3L1201,2081.7L1193.1,2087.1L1185.3,2092.4L1177.5,2097.8L1169.6,2103.1L1161.8,2108.4L1153.9,2113.7L1146,2119L1151.6,2127.5L1159.5,2122.2L1167.4,2116.9L1175.3,2111.6L1183.2,2106.2L1191.1,2100.9L1198.9,2095.5L1206.8,2090.2L1214.6,2084.8ZM1120.2,2136.2L1112.3,2141.4L1104.4,2146.7L1096.5,2151.9L1088.5,2157L1080.5,2162.2L1072.6,2167.3L1064.6,2172.4L1056.6,2177.5L1061.9,2185.9L1069.9,2180.8L1077.9,2175.7L1085.9,2170.6L1093.9,2165.4L1101.9,2160.3L1109.9,2155.1L1117.8,2149.8L1125.8,2144.6ZM1030.4,2194L1022.3,2199L1014.2,2203.9L1006.1,2208.9L998,2213.8L989.9,2218.7L981.7,2223.6L973.6,2228.5L965.5,2233.4L970.4,2241.7L978.6,2236.8L986.7,2231.9L994.9,2227L1003,2222.1L1011.1,2217.2L1019.3,2212.2L1027.4,2207.3L1035.5,2202.3ZM938.8,2249.2L930.6,2254L922.4,2258.8L914.3,2263.6L906,2268.3L897.8,2273.1L889.6,2277.8L881.4,2282.6L873.1,2287.3L877.8,2295.5L886.1,2290.8L894.3,2286L902.6,2281.3L910.8,2276.6L919,2271.8L927.3,2267L935.5,2262.2L943.7,2257.4ZM846.2,2302.5L837.9,2307.1L829.6,2311.7L821.3,2316.3L813,2320.9L804.7,2325.5L796.3,2330L788,2334.5L779.6,2339L783.9,2347.1L792.3,2342.6L800.7,2338.1L809.1,2333.6L817.4,2329.1L825.8,2324.5L834.1,2319.9L842.4,2315.3L850.7,2310.7ZM752.2,2353.4L743.8,2357.7L735.3,2362L726.9,2366.2L718.4,2370.4L709.9,2374.6L701.3,2378.6L692.7,2382.6L684.1,2386.6L687.6,2394.3L696.3,2390.4L705,2386.5L713.6,2382.4L722.2,2378.4L730.8,2374.2L739.3,2370L747.9,2365.7L756.3,2361.4ZM655.8,2398.9L647,2402.5L638.3,2406L629.5,2409.5L620.6,2412.9L611.8,2416.2L602.9,2419.4L593.9,2422.5L585,2425.6L587.7,2433.6L596.7,2430.6L605.7,2427.4L614.7,2424.1L623.6,2420.8L632.5,2417.4L641.4,2413.9L650.3,2410.3L659.1,2406.7ZM555.6,2434.4L547.1,2436.6L538.6,2438.7L530.2,2440.5L521.6,2442L513,2443.4L504.3,2444.8L505.7,2453.2L514.3,2451.8L523.1,2450.4L531.8,2448.8L540.6,2447L549.2,2444.9L557.8,2442.7Z" fill="#000000"/>
</g>
<text transform="translate(441.5,2511.5) scale(1.320,1.000)" font-family="'Liberation Mono', monospace" font-size="60" fill="#111" text-anchor="middle" textLength="84.8" lengthAdjust="spacing" stroke="#fff" stroke-width="1.3">(b)</text>
<g id="insetB">
<rect x="1423" y="2087.3" width="615" height="384.1" fill="#fff" stroke="#000" stroke-width="1.6"/>
<line x1="1417" y1="2471.4" x2="1423" y2="2471.4" stroke="#000" stroke-width="1.5"/>
<text transform="translate(1407,2477.2)" font-family="'Liberation Sans', sans-serif" font-size="16.3" fill="#000" text-anchor="end" textLength="46" lengthAdjust="spacingAndGlyphs">20000</text>
<line x1="1423" y1="2460.4" x2="1426.5" y2="2460.4" stroke="#000" stroke-width="1"/>
<line x1="1423" y1="2449.5" x2="1426.5" y2="2449.5" stroke="#000" stroke-width="1"/>
<line x1="1423" y1="2438.5" x2="1426.5" y2="2438.5" stroke="#000" stroke-width="1"/>
<line x1="1423" y1="2427.5" x2="1426.5" y2="2427.5" stroke="#000" stroke-width="1"/>
<line x1="1417" y1="2416.5" x2="1423" y2="2416.5" stroke="#000" stroke-width="1.5"/>
<text transform="translate(1407,2422.3)" font-family="'Liberation Sans', sans-serif" font-size="16.3" fill="#000" text-anchor="end" textLength="46" lengthAdjust="spacingAndGlyphs">25000</text>
<line x1="1423" y1="2405.6" x2="1426.5" y2="2405.6" stroke="#000" stroke-width="1"/>
<line x1="1423" y1="2394.6" x2="1426.5" y2="2394.6" stroke="#000" stroke-width="1"/>
<line x1="1423" y1="2383.6" x2="1426.5" y2="2383.6" stroke="#000" stroke-width="1"/>
<line x1="1423" y1="2372.6" x2="1426.5" y2="2372.6" stroke="#000" stroke-width="1"/>
<line x1="1417" y1="2361.7" x2="1423" y2="2361.7" stroke="#000" stroke-width="1.5"/>
<text transform="translate(1407,2367.5)" font-family="'Liberation Sans', sans-serif" font-size="16.3" fill="#000" text-anchor="end" textLength="46" lengthAdjust="spacingAndGlyphs">30000</text>
<line x1="1423" y1="2350.7" x2="1426.5" y2="2350.7" stroke="#000" stroke-width="1"/>
<line x1="1423" y1="2339.7" x2="1426.5" y2="2339.7" stroke="#000" stroke-width="1"/>
<line x1="1423" y1="2328.7" x2="1426.5" y2="2328.7" stroke="#000" stroke-width="1"/>
<line x1="1423" y1="2317.8" x2="1426.5" y2="2317.8" stroke="#000" stroke-width="1"/>
<line x1="1417" y1="2306.8" x2="1423" y2="2306.8" stroke="#000" stroke-width="1.5"/>
<text transform="translate(1407,2312.6)" font-family="'Liberation Sans', sans-serif" font-size="16.3" fill="#000" text-anchor="end" textLength="46" lengthAdjust="spacingAndGlyphs">35000</text>
<line x1="1423" y1="2295.8" x2="1426.5" y2="2295.8" stroke="#000" stroke-width="1"/>
<line x1="1423" y1="2284.8" x2="1426.5" y2="2284.8" stroke="#000" stroke-width="1"/>
<line x1="1423" y1="2273.9" x2="1426.5" y2="2273.9" stroke="#000" stroke-width="1"/>
<line x1="1423" y1="2262.9" x2="1426.5" y2="2262.9" stroke="#000" stroke-width="1"/>
<line x1="1417" y1="2251.9" x2="1423" y2="2251.9" stroke="#000" stroke-width="1.5"/>
<text transform="translate(1407,2257.7)" font-family="'Liberation Sans', sans-serif" font-size="16.3" fill="#000" text-anchor="end" textLength="46" lengthAdjust="spacingAndGlyphs">40000</text>
<line x1="1423" y1="2240.9" x2="1426.5" y2="2240.9" stroke="#000" stroke-width="1"/>
<line x1="1423" y1="2230" x2="1426.5" y2="2230" stroke="#000" stroke-width="1"/>
<line x1="1423" y1="2219" x2="1426.5" y2="2219" stroke="#000" stroke-width="1"/>
<line x1="1423" y1="2208" x2="1426.5" y2="2208" stroke="#000" stroke-width="1"/>
<line x1="1417" y1="2197" x2="1423" y2="2197" stroke="#000" stroke-width="1.5"/>
<text transform="translate(1407,2202.8)" font-family="'Liberation Sans', sans-serif" font-size="16.3" fill="#000" text-anchor="end" textLength="46" lengthAdjust="spacingAndGlyphs">45000</text>
<line x1="1423" y1="2186.1" x2="1426.5" y2="2186.1" stroke="#000" stroke-width="1"/>
<line x1="1423" y1="2175.1" x2="1426.5" y2="2175.1" stroke="#000" stroke-width="1"/>
<line x1="1423" y1="2164.1" x2="1426.5" y2="2164.1" stroke="#000" stroke-width="1"/>
<line x1="1423" y1="2153.1" x2="1426.5" y2="2153.1" stroke="#000" stroke-width="1"/>
<line x1="1417" y1="2142.2" x2="1423" y2="2142.2" stroke="#000" stroke-width="1.5"/>
<text transform="translate(1407,2148)" font-family="'Liberation Sans', sans-serif" font-size="16.3" fill="#000" text-anchor="end" textLength="46" lengthAdjust="spacingAndGlyphs">50000</text>
<line x1="1423" y1="2131.2" x2="1426.5" y2="2131.2" stroke="#000" stroke-width="1"/>
<line x1="1423" y1="2120.2" x2="1426.5" y2="2120.2" stroke="#000" stroke-width="1"/>
<line x1="1423" y1="2109.2" x2="1426.5" y2="2109.2" stroke="#000" stroke-width="1"/>
<line x1="1423" y1="2098.3" x2="1426.5" y2="2098.3" stroke="#000" stroke-width="1"/>
<line x1="1417" y1="2087.3" x2="1423" y2="2087.3" stroke="#000" stroke-width="1.5"/>
<text transform="translate(1407,2093.1)" font-family="'Liberation Sans', sans-serif" font-size="16.3" fill="#000" text-anchor="end" textLength="46" lengthAdjust="spacingAndGlyphs">55000</text>
<line x1="1423" y1="2471.4" x2="1423" y2="2477.4" stroke="#000" stroke-width="1.5"/>
<text transform="translate(1423,2499)" font-family="'Liberation Sans', sans-serif" font-size="16.3" fill="#000" text-anchor="middle" textLength="32" lengthAdjust="spacingAndGlyphs">0.15</text>
<line x1="1438.4" y1="2471.4" x2="1438.4" y2="2467.9" stroke="#000" stroke-width="1"/>
<line x1="1453.8" y1="2471.4" x2="1453.8" y2="2467.9" stroke="#000" stroke-width="1"/>
<line x1="1469.1" y1="2471.4" x2="1469.1" y2="2467.9" stroke="#000" stroke-width="1"/>
<line x1="1484.5" y1="2471.4" x2="1484.5" y2="2467.9" stroke="#000" stroke-width="1"/>
<line x1="1499.9" y1="2471.4" x2="1499.9" y2="2477.4" stroke="#000" stroke-width="1.5"/>
<text transform="translate(1499.9,2499)" font-family="'Liberation Sans', sans-serif" font-size="16.3" fill="#000" text-anchor="middle" textLength="32" lengthAdjust="spacingAndGlyphs">0.20</text>
<line x1="1515.2" y1="2471.4" x2="1515.2" y2="2467.9" stroke="#000" stroke-width="1"/>
<line x1="1530.6" y1="2471.4" x2="1530.6" y2="2467.9" stroke="#000" stroke-width="1"/>
<line x1="1546" y1="2471.4" x2="1546" y2="2467.9" stroke="#000" stroke-width="1"/>
<line x1="1561.4" y1="2471.4" x2="1561.4" y2="2467.9" stroke="#000" stroke-width="1"/>
<line x1="1576.8" y1="2471.4" x2="1576.8" y2="2477.4" stroke="#000" stroke-width="1.5"/>
<text transform="translate(1576.8,2499)" font-family="'Liberation Sans', sans-serif" font-size="16.3" fill="#000" text-anchor="middle" textLength="32" lengthAdjust="spacingAndGlyphs">0.25</text>
<line x1="1592.1" y1="2471.4" x2="1592.1" y2="2467.9" stroke="#000" stroke-width="1"/>
<line x1="1607.5" y1="2471.4" x2="1607.5" y2="2467.9" stroke="#000" stroke-width="1"/>
<line x1="1622.9" y1="2471.4" x2="1622.9" y2="2467.9" stroke="#000" stroke-width="1"/>
<line x1="1638.2" y1="2471.4" x2="1638.2" y2="2467.9" stroke="#000" stroke-width="1"/>
<line x1="1653.6" y1="2471.4" x2="1653.6" y2="2477.4" stroke="#000" stroke-width="1.5"/>
<text transform="translate(1653.6,2499)" font-family="'Liberation Sans', sans-serif" font-size="16.3" fill="#000" text-anchor="middle" textLength="32" lengthAdjust="spacingAndGlyphs">0.30</text>
<line x1="1669" y1="2471.4" x2="1669" y2="2467.9" stroke="#000" stroke-width="1"/>
<line x1="1684.4" y1="2471.4" x2="1684.4" y2="2467.9" stroke="#000" stroke-width="1"/>
<line x1="1699.8" y1="2471.4" x2="1699.8" y2="2467.9" stroke="#000" stroke-width="1"/>
<line x1="1715.1" y1="2471.4" x2="1715.1" y2="2467.9" stroke="#000" stroke-width="1"/>
<line x1="1730.5" y1="2471.4" x2="1730.5" y2="2477.4" stroke="#000" stroke-width="1.5"/>
<text transform="translate(1730.5,2499)" font-family="'Liberation Sans', sans-serif" font-size="16.3" fill="#000" text-anchor="middle" textLength="32" lengthAdjust="spacingAndGlyphs">0.35</text>
<line x1="1745.9" y1="2471.4" x2="1745.9" y2="2467.9" stroke="#000" stroke-width="1"/>
<line x1="1761.2" y1="2471.4" x2="1761.2" y2="2467.9" stroke="#000" stroke-width="1"/>
<line x1="1776.6" y1="2471.4" x2="1776.6" y2="2467.9" stroke="#000" stroke-width="1"/>
<line x1="1792" y1="2471.4" x2="1792" y2="2467.9" stroke="#000" stroke-width="1"/>
<line x1="1807.4" y1="2471.4" x2="1807.4" y2="2477.4" stroke="#000" stroke-width="1.5"/>
<text transform="translate(1807.4,2499)" font-family="'Liberation Sans', sans-serif" font-size="16.3" fill="#000" text-anchor="middle" textLength="32" lengthAdjust="spacingAndGlyphs">0.40</text>
<line x1="1822.8" y1="2471.4" x2="1822.8" y2="2467.9" stroke="#000" stroke-width="1"/>
<line x1="1838.1" y1="2471.4" x2="1838.1" y2="2467.9" stroke="#000" stroke-width="1"/>
<line x1="1853.5" y1="2471.4" x2="1853.5" y2="2467.9" stroke="#000" stroke-width="1"/>
<line x1="1868.9" y1="2471.4" x2="1868.9" y2="2467.9" stroke="#000" stroke-width="1"/>
<line x1="1884.2" y1="2471.4" x2="1884.2" y2="2477.4" stroke="#000" stroke-width="1.5"/>
<text transform="translate(1884.2,2499)" font-family="'Liberation Sans', sans-serif" font-size="16.3" fill="#000" text-anchor="middle" textLength="32" lengthAdjust="spacingAndGlyphs">0.45</text>
<line x1="1899.6" y1="2471.4" x2="1899.6" y2="2467.9" stroke="#000" stroke-width="1"/>
<line x1="1915" y1="2471.4" x2="1915" y2="2467.9" stroke="#000" stroke-width="1"/>
<line x1="1930.4" y1="2471.4" x2="1930.4" y2="2467.9" stroke="#000" stroke-width="1"/>
<line x1="1945.8" y1="2471.4" x2="1945.8" y2="2467.9" stroke="#000" stroke-width="1"/>
<line x1="1961.1" y1="2471.4" x2="1961.1" y2="2477.4" stroke="#000" stroke-width="1.5"/>
<text transform="translate(1961.1,2499)" font-family="'Liberation Sans', sans-serif" font-size="16.3" fill="#000" text-anchor="middle" textLength="32" lengthAdjust="spacingAndGlyphs">0.50</text>
<line x1="1976.5" y1="2471.4" x2="1976.5" y2="2467.9" stroke="#000" stroke-width="1"/>
<line x1="1991.9" y1="2471.4" x2="1991.9" y2="2467.9" stroke="#000" stroke-width="1"/>
<line x1="2007.2" y1="2471.4" x2="2007.2" y2="2467.9" stroke="#000" stroke-width="1"/>
<line x1="2022.6" y1="2471.4" x2="2022.6" y2="2467.9" stroke="#000" stroke-width="1"/>
<line x1="2038" y1="2471.4" x2="2038" y2="2477.4" stroke="#000" stroke-width="1.5"/>
<text transform="translate(2038,2499)" font-family="'Liberation Sans', sans-serif" font-size="16.3" fill="#000" text-anchor="middle" textLength="32" lengthAdjust="spacingAndGlyphs">0.55</text>
<text transform="translate(1730.5,2531)" font-family="'Liberation Sans', sans-serif" font-size="17.5" fill="#000" text-anchor="middle" textLength="154.5" lengthAdjust="spacingAndGlyphs">ZnO content (g/l)</text>
<text transform="translate(1340,2279.5) rotate(-90)" font-family="'Liberation Sans', sans-serif" font-size="17.5" fill="#000" text-anchor="middle" textLength="223.5" lengthAdjust="spacingAndGlyphs">Cathodic current peak (mA)</text>
<path d="M1499,2424.6C1505.2,2415.3 1523.7,2387.6 1536,2369C1548.3,2350.4 1559.5,2332 1573,2313C1586.5,2294 1603.6,2269.8 1617,2255C1630.4,2240.2 1641.2,2233.1 1653.4,2224.5C1665.6,2215.9 1677.4,2209.4 1690,2203.5C1702.6,2197.6 1716,2192.9 1729,2189C1742,2185.1 1754.9,2183 1768,2180C1781.1,2177 1794.4,2174.6 1807.6,2170.8C1820.8,2167 1833.9,2161.9 1847,2157C1860.1,2152.1 1873,2147.2 1886,2141.5C1899,2135.8 1912.5,2129.1 1925,2123C1937.5,2116.9 1954.8,2108 1960.8,2105" fill="none" stroke="#ff0000" stroke-width="2.8" stroke-linejoin="round"/>
<path d="M1493.4,2425.3L1499.9,2418.8L1506.4,2425.3L1499.9,2431.8Z" fill="#ff0000"/>
<line x1="1497.9" y1="2422.8" x2="1497.9" y2="2427.8" stroke="#000" stroke-width="1.6"/>
<path d="M1647.1,2224.5L1653.6,2218L1660.1,2224.5L1653.6,2231Z" fill="#ff0000"/>
<line x1="1651.6" y1="2222" x2="1651.6" y2="2227" stroke="#000" stroke-width="1.6"/>
<path d="M1800.9,2171.8L1807.4,2165.3L1813.9,2171.8L1807.4,2178.3Z" fill="#ff0000"/>
<line x1="1805.4" y1="2169.3" x2="1805.4" y2="2174.3" stroke="#000" stroke-width="1.6"/>
<path d="M1954.6,2106L1961.1,2099.5L1967.6,2106L1961.1,2112.5Z" fill="#ff0000"/>
<line x1="1959.1" y1="2103.5" x2="1959.1" y2="2108.5" stroke="#000" stroke-width="1.6"/>
</g>
</svg>
</body></html>
